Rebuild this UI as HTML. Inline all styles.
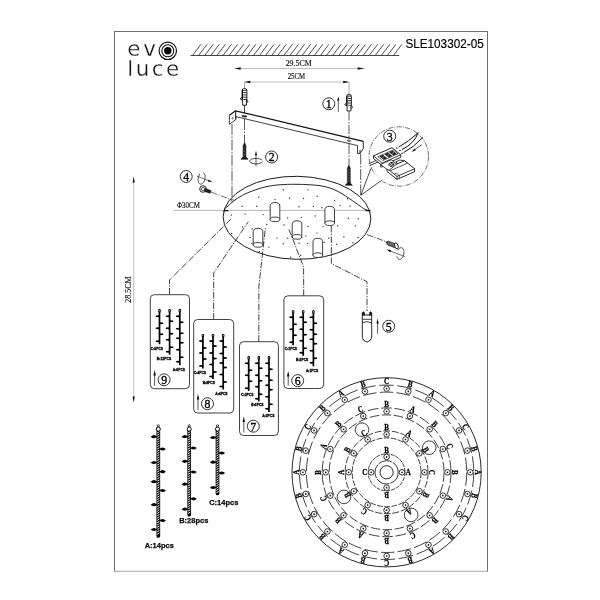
<!DOCTYPE html>
<html><head><meta charset="utf-8"><title>SLE103302-05</title>
<style>
html,body{margin:0;padding:0;background:#fff;}
body{width:600px;height:600px;overflow:hidden;font-family:"Liberation Sans",sans-serif;}
svg{display:block;will-change:transform;filter:grayscale(1);}
</style></head>
<body>
<svg width="600" height="600" viewBox="0 0 600 600">
<rect x="0" y="0" width="600" height="600" fill="#fff"/>
<line x1="114.00" y1="31.50" x2="488.00" y2="31.50" stroke="#6e6e6e" stroke-width="1" />
<line x1="114.50" y1="31.00" x2="114.50" y2="571.60" stroke="#6e6e6e" stroke-width="1" />
<line x1="487.50" y1="31.00" x2="487.50" y2="571.60" stroke="#6e6e6e" stroke-width="1" />
<line x1="114.00" y1="571.30" x2="488.00" y2="571.30" stroke="#a8a8a8" stroke-width="1" />
<text x="127.30" y="55.50" font-family="'DejaVu Sans','Liberation Sans', sans-serif" font-size="21.4" font-weight="400" text-anchor="start" fill="#111" letter-spacing="2.9" stroke="#fff" stroke-width="0.3" paint-order="fill stroke">ev</text>
<text x="127.30" y="75.50" font-family="'DejaVu Sans','Liberation Sans', sans-serif" font-size="21.4" font-weight="400" text-anchor="start" fill="#111" letter-spacing="2.5" stroke="#fff" stroke-width="0.3" paint-order="fill stroke">luce</text>
<circle cx="167.80" cy="50.80" r="8.70" fill="none" stroke="#111" stroke-width="1.2"/>
<circle cx="167.80" cy="50.80" r="6.00" fill="none" stroke="#111" stroke-width="1.1"/>
<circle cx="167.80" cy="50.80" r="3.70" fill="#000" stroke="#111" stroke-width="0"/>
<text x="405.40" y="47.80" font-family="'Liberation Sans', sans-serif" font-size="12.6" font-weight="normal" text-anchor="start" fill="#000" textLength="78.3" lengthAdjust="spacingAndGlyphs" stroke="#000" stroke-width="0.15">SLE103302-05</text>
<line x1="190.50" y1="55.50" x2="399.30" y2="55.50" stroke="#333" stroke-width="0.9" />
<line x1="192.50" y1="55.50" x2="201.00" y2="44.30" stroke="#222" stroke-width="0.8" />
<line x1="198.59" y1="55.50" x2="207.09" y2="44.30" stroke="#222" stroke-width="0.8" />
<line x1="204.68" y1="55.50" x2="213.18" y2="44.30" stroke="#222" stroke-width="0.8" />
<line x1="210.77" y1="55.50" x2="219.27" y2="44.30" stroke="#222" stroke-width="0.8" />
<line x1="216.86" y1="55.50" x2="225.36" y2="44.30" stroke="#222" stroke-width="0.8" />
<line x1="222.95" y1="55.50" x2="231.45" y2="44.30" stroke="#222" stroke-width="0.8" />
<line x1="229.04" y1="55.50" x2="237.54" y2="44.30" stroke="#222" stroke-width="0.8" />
<line x1="235.13" y1="55.50" x2="243.63" y2="44.30" stroke="#222" stroke-width="0.8" />
<line x1="241.22" y1="55.50" x2="249.72" y2="44.30" stroke="#222" stroke-width="0.8" />
<line x1="247.31" y1="55.50" x2="255.81" y2="44.30" stroke="#222" stroke-width="0.8" />
<line x1="253.40" y1="55.50" x2="261.90" y2="44.30" stroke="#222" stroke-width="0.8" />
<line x1="259.49" y1="55.50" x2="267.99" y2="44.30" stroke="#222" stroke-width="0.8" />
<line x1="265.58" y1="55.50" x2="274.08" y2="44.30" stroke="#222" stroke-width="0.8" />
<line x1="271.67" y1="55.50" x2="280.17" y2="44.30" stroke="#222" stroke-width="0.8" />
<line x1="277.76" y1="55.50" x2="286.26" y2="44.30" stroke="#222" stroke-width="0.8" />
<line x1="283.85" y1="55.50" x2="292.35" y2="44.30" stroke="#222" stroke-width="0.8" />
<line x1="289.94" y1="55.50" x2="298.44" y2="44.30" stroke="#222" stroke-width="0.8" />
<line x1="296.03" y1="55.50" x2="304.53" y2="44.30" stroke="#222" stroke-width="0.8" />
<line x1="302.12" y1="55.50" x2="310.62" y2="44.30" stroke="#222" stroke-width="0.8" />
<line x1="308.21" y1="55.50" x2="316.71" y2="44.30" stroke="#222" stroke-width="0.8" />
<line x1="314.30" y1="55.50" x2="322.80" y2="44.30" stroke="#222" stroke-width="0.8" />
<line x1="320.39" y1="55.50" x2="328.89" y2="44.30" stroke="#222" stroke-width="0.8" />
<line x1="326.48" y1="55.50" x2="334.98" y2="44.30" stroke="#222" stroke-width="0.8" />
<line x1="332.57" y1="55.50" x2="341.07" y2="44.30" stroke="#222" stroke-width="0.8" />
<line x1="338.66" y1="55.50" x2="347.16" y2="44.30" stroke="#222" stroke-width="0.8" />
<line x1="344.75" y1="55.50" x2="353.25" y2="44.30" stroke="#222" stroke-width="0.8" />
<line x1="350.84" y1="55.50" x2="359.34" y2="44.30" stroke="#222" stroke-width="0.8" />
<line x1="356.93" y1="55.50" x2="365.43" y2="44.30" stroke="#222" stroke-width="0.8" />
<line x1="363.02" y1="55.50" x2="371.52" y2="44.30" stroke="#222" stroke-width="0.8" />
<line x1="369.11" y1="55.50" x2="377.61" y2="44.30" stroke="#222" stroke-width="0.8" />
<line x1="375.20" y1="55.50" x2="383.70" y2="44.30" stroke="#222" stroke-width="0.8" />
<line x1="381.29" y1="55.50" x2="389.79" y2="44.30" stroke="#222" stroke-width="0.8" />
<line x1="387.38" y1="55.50" x2="395.88" y2="44.30" stroke="#222" stroke-width="0.8" />
<line x1="393.47" y1="55.50" x2="401.97" y2="44.30" stroke="#222" stroke-width="0.8" />
<line x1="235.00" y1="68.50" x2="364.00" y2="68.50" stroke="#888" stroke-width="0.55" />
<polygon points="234.20,68.50 240.70,67.20 240.70,69.80" fill="#111" stroke="none"/>
<polygon points="364.20,68.50 357.70,69.80 357.70,67.20" fill="#111" stroke="none"/>
<text x="285.70" y="65.80" font-family="'Liberation Serif', serif" font-size="8.2" font-weight="normal" text-anchor="start" fill="#111" textLength="26" stroke="#111" stroke-width="0.15" lengthAdjust="spacingAndGlyphs" >29.5CM</text>
<line x1="244.50" y1="82.00" x2="349.00" y2="82.00" stroke="#888" stroke-width="0.55" />
<polygon points="244.50,82.00 250.30,80.75 250.30,83.25" fill="#111" stroke="none"/>
<polygon points="349.00,82.00 343.20,83.25 343.20,80.75" fill="#111" stroke="none"/>
<text x="287.70" y="79.10" font-family="'Liberation Serif', serif" font-size="8.2" font-weight="normal" text-anchor="start" fill="#111" textLength="17.5" stroke="#111" stroke-width="0.15" lengthAdjust="spacingAndGlyphs" >25CM</text>
<line x1="133.70" y1="178.00" x2="133.70" y2="401.00" stroke="#888" stroke-width="0.55" />
<polygon points="133.70,176.50 134.80,182.50 132.60,182.50" fill="#111" stroke="none"/>
<polygon points="133.70,402.50 132.60,396.50 134.80,396.50" fill="#111" stroke="none"/>
<text x="130.90" y="289.50" font-family="'Liberation Serif', serif" font-size="8.2" font-weight="normal" text-anchor="middle" fill="#111" transform="rotate(-90 130.90 289.50)" textLength="26.5" stroke="#111" stroke-width="0.15" lengthAdjust="spacingAndGlyphs" >28.5CM</text>
<path d="M242.1,99.9 L242.1,90.80000000000001 Q242.1,88.4 244.5,88.4 Q246.9,88.4 246.9,90.80000000000001 L246.9,99.9" fill="#fff" stroke="#111" stroke-width="0.9" stroke-linejoin="round" stroke-linecap="round" />
<line x1="242.50" y1="89.90" x2="242.50" y2="99.40" stroke="#000" stroke-width="1.1" />
<line x1="243.30" y1="90.30" x2="246.70" y2="90.30" stroke="#111" stroke-width="0.9" />
<line x1="243.30" y1="92.60" x2="246.70" y2="92.60" stroke="#111" stroke-width="0.9" />
<line x1="243.30" y1="94.90" x2="246.70" y2="94.90" stroke="#111" stroke-width="0.9" />
<line x1="243.30" y1="97.20" x2="246.70" y2="97.20" stroke="#111" stroke-width="0.9" />
<line x1="243.30" y1="99.50" x2="246.70" y2="99.50" stroke="#111" stroke-width="0.9" />
<path d="M242.1,97.2 L240.2,98.80000000000001 L242.1,100.0 M246.9,100.0 L248.1,101.60000000000001 L246.5,102.80000000000001" fill="none" stroke="#111" stroke-width="0.9" stroke-linejoin="round" stroke-linecap="round" />
<path d="M242.6,99.9 L242.6,105.2 L246.4,105.2 L246.4,99.9" fill="#fff" stroke="#111" stroke-width="0.9" stroke-linejoin="round" stroke-linecap="round" />
<path d="M346.6,105.7 L346.6,96.60000000000001 Q346.6,94.2 349,94.2 Q351.4,94.2 351.4,96.60000000000001 L351.4,105.7" fill="#fff" stroke="#111" stroke-width="0.9" stroke-linejoin="round" stroke-linecap="round" />
<line x1="347.00" y1="95.70" x2="347.00" y2="105.20" stroke="#000" stroke-width="1.1" />
<line x1="347.80" y1="96.10" x2="351.20" y2="96.10" stroke="#111" stroke-width="0.9" />
<line x1="347.80" y1="98.40" x2="351.20" y2="98.40" stroke="#111" stroke-width="0.9" />
<line x1="347.80" y1="100.70" x2="351.20" y2="100.70" stroke="#111" stroke-width="0.9" />
<line x1="347.80" y1="103.00" x2="351.20" y2="103.00" stroke="#111" stroke-width="0.9" />
<line x1="347.80" y1="105.30" x2="351.20" y2="105.30" stroke="#111" stroke-width="0.9" />
<path d="M346.6,103.0 L344.7,104.60000000000001 L346.6,105.8 M351.4,105.8 L352.6,107.4 L351.0,108.60000000000001" fill="none" stroke="#111" stroke-width="0.9" stroke-linejoin="round" stroke-linecap="round" />
<path d="M347.1,105.7 L347.1,111.0 L350.9,111.0 L350.9,105.7" fill="#fff" stroke="#111" stroke-width="0.9" stroke-linejoin="round" stroke-linecap="round" />
<line x1="244.50" y1="82.00" x2="244.50" y2="88.00" stroke="#555" stroke-width="0.5" />
<line x1="244.50" y1="105.30" x2="244.50" y2="113.00" stroke="#111" stroke-width="0.8" />
<line x1="244.50" y1="119.00" x2="244.50" y2="142.00" stroke="#111" stroke-width="0.7" stroke-dasharray="11 1.5 1.5 1.5" />
<line x1="349.00" y1="82.00" x2="349.00" y2="94.00" stroke="#555" stroke-width="0.5" />
<line x1="349.00" y1="111.50" x2="349.00" y2="138.50" stroke="#111" stroke-width="0.7" stroke-dasharray="9 1.5 1.5 1.5" />
<line x1="349.00" y1="143.00" x2="349.00" y2="164.50" stroke="#111" stroke-width="0.7" stroke-dasharray="11 1.5 1.5 1.5" />
<line x1="232.00" y1="124.00" x2="232.00" y2="198.00" stroke="#111" stroke-width="0.7" stroke-dasharray="11 1.5 1.5 1.5" />
<line x1="360.70" y1="153.50" x2="360.70" y2="195.00" stroke="#111" stroke-width="0.7" stroke-dasharray="11 1.5 1.5 1.5" />
<polyline points="229.40,115.30 235.60,110.80 363.30,141.30" fill="none" stroke="#111" stroke-width="1.2" stroke-linejoin="round" />
<polyline points="229.40,115.30 229.40,124.30 235.80,119.60 235.80,116.60 357.50,145.60" fill="none" stroke="#111" stroke-width="0.8" stroke-linejoin="round" />
<line x1="235.70" y1="111.00" x2="235.70" y2="119.30" stroke="#111" stroke-width="1.0" />
<polyline points="363.30,141.30 363.30,148.50 360.00,153.30 360.00,150.00" fill="none" stroke="#111" stroke-width="0.9" stroke-linejoin="round" />
<polyline points="357.50,145.60 357.50,153.50 360.00,153.30" fill="none" stroke="#111" stroke-width="0.8" stroke-linejoin="round" />
<ellipse cx="232.60" cy="118.20" rx="0.60" ry="1.00" fill="none" stroke="#111" stroke-width="0.5"/>
<ellipse cx="244.40" cy="116.30" rx="2.70" ry="0.65" fill="#111" stroke="#111" stroke-width="0.6" transform="rotate(8 244.40 116.30)"/>
<ellipse cx="349.00" cy="140.80" rx="1.60" ry="0.80" fill="none" stroke="#111" stroke-width="0.7" transform="rotate(13 349.00 140.80)"/>
<path d="M244.5,142.5 L243.0,146.0 L243.0,157.10000000000002 L241.0,159.0 L241.0,159.3 L248.0,159.3 L248.0,159.0 L246.0,157.10000000000002 L246.0,146.0 Z" fill="#111" stroke="#111" stroke-width="0.5" stroke-linejoin="round" stroke-linecap="round" />
<line x1="243.10" y1="147.50" x2="245.90" y2="146.70" stroke="#aaa" stroke-width="0.35" />
<line x1="243.10" y1="149.00" x2="245.90" y2="148.20" stroke="#aaa" stroke-width="0.35" />
<line x1="243.10" y1="150.50" x2="245.90" y2="149.70" stroke="#aaa" stroke-width="0.35" />
<line x1="243.10" y1="152.00" x2="245.90" y2="151.20" stroke="#aaa" stroke-width="0.35" />
<line x1="243.10" y1="153.50" x2="245.90" y2="152.70" stroke="#aaa" stroke-width="0.35" />
<line x1="243.10" y1="155.00" x2="245.90" y2="154.20" stroke="#aaa" stroke-width="0.35" />
<line x1="243.10" y1="156.50" x2="245.90" y2="155.70" stroke="#aaa" stroke-width="0.35" />
<path d="M348.8,165 L347.3,168.5 L347.3,183.10000000000002 L345.3,185.0 L345.3,185.3 L352.3,185.3 L352.3,185.0 L350.3,183.10000000000002 L350.3,168.5 Z" fill="#111" stroke="#111" stroke-width="0.5" stroke-linejoin="round" stroke-linecap="round" />
<line x1="347.40" y1="170.00" x2="350.20" y2="169.20" stroke="#aaa" stroke-width="0.35" />
<line x1="347.40" y1="171.50" x2="350.20" y2="170.70" stroke="#aaa" stroke-width="0.35" />
<line x1="347.40" y1="173.00" x2="350.20" y2="172.20" stroke="#aaa" stroke-width="0.35" />
<line x1="347.40" y1="174.50" x2="350.20" y2="173.70" stroke="#aaa" stroke-width="0.35" />
<line x1="347.40" y1="176.00" x2="350.20" y2="175.20" stroke="#aaa" stroke-width="0.35" />
<line x1="347.40" y1="177.50" x2="350.20" y2="176.70" stroke="#aaa" stroke-width="0.35" />
<line x1="347.40" y1="179.00" x2="350.20" y2="178.20" stroke="#aaa" stroke-width="0.35" />
<line x1="347.40" y1="180.50" x2="350.20" y2="179.70" stroke="#aaa" stroke-width="0.35" />
<line x1="347.40" y1="182.00" x2="350.20" y2="181.20" stroke="#aaa" stroke-width="0.35" />
<path d="M261.5,159.6 A6.5,2.8 0 1 0 262.4,161.9" fill="none" stroke="#111" stroke-width="0.75" stroke-linejoin="round" stroke-linecap="round" />
<line x1="256.00" y1="154.00" x2="256.00" y2="166.30" stroke="#111" stroke-width="0.7" />
<polygon points="256.00,150.80 257.10,155.30 254.90,155.30" fill="#111" stroke="none"/>
<circle cx="271.60" cy="157.00" r="6.00" fill="none" stroke="#111" stroke-width="0.85"/>
<text transform="translate(271.60 161.42) scale(0.9 1)" x="0" y="0" font-family="'Liberation Serif', serif" font-size="13.2" text-anchor="middle" fill="#000" stroke="#000" stroke-width="0.35">2</text>
<circle cx="328.80" cy="103.80" r="6.00" fill="none" stroke="#111" stroke-width="0.85"/>
<text transform="translate(328.80 108.22) scale(0.9 1)" x="0" y="0" font-family="'Liberation Serif', serif" font-size="13.2" text-anchor="middle" fill="#000" stroke="#000" stroke-width="0.35">1</text>
<line x1="338.30" y1="98.00" x2="338.30" y2="111.80" stroke="#111" stroke-width="0.7" />
<polygon points="338.30,96.20 339.30,100.70 337.30,100.70" fill="#111" stroke="none"/>
<circle cx="186.20" cy="176.50" r="6.00" fill="none" stroke="#111" stroke-width="0.85"/>
<text transform="translate(186.20 180.92) scale(0.9 1)" x="0" y="0" font-family="'Liberation Serif', serif" font-size="13.2" text-anchor="middle" fill="#000" stroke="#000" stroke-width="0.35">4</text>
<circle cx="389.70" cy="136.20" r="6.00" fill="none" stroke="#111" stroke-width="0.85"/>
<text transform="translate(389.70 140.62) scale(0.9 1)" x="0" y="0" font-family="'Liberation Serif', serif" font-size="13.2" text-anchor="middle" fill="#000" stroke="#000" stroke-width="0.35">3</text>
<circle cx="388.70" cy="326.30" r="6.00" fill="none" stroke="#111" stroke-width="0.85"/>
<text transform="translate(388.70 330.72) scale(0.9 1)" x="0" y="0" font-family="'Liberation Serif', serif" font-size="13.2" text-anchor="middle" fill="#000" stroke="#000" stroke-width="0.35">5</text>
<line x1="377.60" y1="321.00" x2="377.60" y2="333.70" stroke="#111" stroke-width="0.7" />
<polygon points="377.60,318.60 378.80,323.60 376.40,323.60" fill="#111" stroke="none"/>
<ellipse cx="297.00" cy="217.80" rx="73.90" ry="41.50" fill="#fff" stroke="#111" stroke-width="0.95" transform="rotate(1 297.00 217.80)"/>
<path d="M223.30,211.50 C223.62,211.02 224.42,209.52 225.20,208.60 C225.98,207.68 226.37,207.43 228.00,206.00 C229.63,204.57 232.17,202.00 235.00,200.00 C237.83,198.00 241.67,195.67 245.00,194.00 C248.33,192.33 251.67,191.17 255.00,190.00 C258.33,188.83 261.67,187.80 265.00,187.00 C268.33,186.20 271.67,185.62 275.00,185.20 C278.33,184.78 281.83,184.65 285.00,184.50 C288.17,184.35 290.33,184.28 294.00,184.30 C297.67,184.32 302.67,184.37 307.00,184.60 C311.33,184.83 316.17,185.13 320.00,185.70 C323.83,186.27 326.67,186.87 330.00,188.00 C333.33,189.13 336.67,190.67 340.00,192.50 C343.33,194.33 346.67,196.75 350.00,199.00 C353.33,201.25 357.50,204.28 360.00,206.00 C362.50,207.72 363.45,208.47 365.00,209.30 C366.55,210.13 368.58,210.72 369.30,211.00" fill="none" stroke="#111" stroke-width="0.9" stroke-linejoin="round" stroke-linecap="round" />
<circle cx="283.3" cy="189.8" r="0.7" fill="#333"/>
<circle cx="308.0" cy="189.9" r="0.7" fill="#333"/>
<circle cx="258.7" cy="197.3" r="0.7" fill="#333"/>
<circle cx="275.1" cy="199.6" r="0.7" fill="#333"/>
<circle cx="289.6" cy="198.3" r="0.7" fill="#333"/>
<circle cx="303.5" cy="198.5" r="0.7" fill="#333"/>
<circle cx="317.2" cy="196.2" r="0.7" fill="#333"/>
<circle cx="334.5" cy="200.5" r="0.7" fill="#333"/>
<circle cx="347.5" cy="198.7" r="0.7" fill="#333"/>
<circle cx="242.1" cy="206.4" r="0.7" fill="#333"/>
<circle cx="256.6" cy="206.3" r="0.7" fill="#333"/>
<circle cx="271.2" cy="209.1" r="0.7" fill="#333"/>
<circle cx="279.5" cy="205.3" r="0.7" fill="#333"/>
<circle cx="299.0" cy="206.8" r="0.7" fill="#333"/>
<circle cx="313.4" cy="206.4" r="0.7" fill="#333"/>
<circle cx="321.9" cy="207.8" r="0.7" fill="#333"/>
<circle cx="340.2" cy="205.6" r="0.7" fill="#333"/>
<circle cx="350.0" cy="206.0" r="0.7" fill="#333"/>
<circle cx="231.2" cy="215.0" r="0.7" fill="#333"/>
<circle cx="245.1" cy="213.9" r="0.7" fill="#333"/>
<circle cx="263.3" cy="214.6" r="0.7" fill="#333"/>
<circle cx="275.9" cy="216.2" r="0.7" fill="#333"/>
<circle cx="287.6" cy="217.9" r="0.7" fill="#333"/>
<circle cx="301.3" cy="217.4" r="0.7" fill="#333"/>
<circle cx="315.2" cy="216.0" r="0.7" fill="#333"/>
<circle cx="329.8" cy="215.1" r="0.7" fill="#333"/>
<circle cx="348.3" cy="218.3" r="0.7" fill="#333"/>
<circle cx="358.3" cy="218.8" r="0.7" fill="#333"/>
<circle cx="242.6" cy="226.9" r="0.7" fill="#333"/>
<circle cx="252.1" cy="228.9" r="0.7" fill="#333"/>
<circle cx="266.8" cy="224.5" r="0.7" fill="#333"/>
<circle cx="284.1" cy="225.0" r="0.7" fill="#333"/>
<circle cx="295.3" cy="223.4" r="0.7" fill="#333"/>
<circle cx="308.0" cy="226.5" r="0.7" fill="#333"/>
<circle cx="323.0" cy="226.6" r="0.7" fill="#333"/>
<circle cx="337.7" cy="225.7" r="0.7" fill="#333"/>
<circle cx="355.3" cy="225.9" r="0.7" fill="#333"/>
<circle cx="231.6" cy="233.4" r="0.7" fill="#333"/>
<circle cx="250.0" cy="237.4" r="0.7" fill="#333"/>
<circle cx="260.0" cy="233.6" r="0.7" fill="#333"/>
<circle cx="276.9" cy="238.1" r="0.7" fill="#333"/>
<circle cx="287.7" cy="238.2" r="0.7" fill="#333"/>
<circle cx="305.8" cy="236.1" r="0.7" fill="#333"/>
<circle cx="317.0" cy="233.1" r="0.7" fill="#333"/>
<circle cx="328.7" cy="238.3" r="0.7" fill="#333"/>
<circle cx="343.9" cy="236.7" r="0.7" fill="#333"/>
<circle cx="358.0" cy="237.4" r="0.7" fill="#333"/>
<circle cx="251.9" cy="243.4" r="0.7" fill="#333"/>
<circle cx="268.9" cy="247.1" r="0.7" fill="#333"/>
<circle cx="283.2" cy="243.7" r="0.7" fill="#333"/>
<circle cx="299.0" cy="243.2" r="0.7" fill="#333"/>
<circle cx="307.6" cy="243.6" r="0.7" fill="#333"/>
<circle cx="324.2" cy="242.4" r="0.7" fill="#333"/>
<circle cx="336.6" cy="244.2" r="0.7" fill="#333"/>
<circle cx="352.9" cy="242.8" r="0.7" fill="#333"/>
<circle cx="259.3" cy="251.7" r="0.7" fill="#333"/>
<circle cx="290.7" cy="257.3" r="0.7" fill="#333"/>
<circle cx="300.6" cy="255.3" r="0.7" fill="#333"/>
<circle cx="317.4" cy="255.9" r="0.7" fill="#333"/>
<line x1="174.00" y1="210.40" x2="370.50" y2="210.40" stroke="#777" stroke-width="0.55" />
<line x1="224.00" y1="210.60" x2="228.50" y2="210.60" stroke="#111" stroke-width="1.3" />
<line x1="365.50" y1="210.60" x2="370.50" y2="210.60" stroke="#111" stroke-width="1.3" />
<text x="177.00" y="207.80" font-family="'Liberation Serif', serif" font-size="8.2" font-weight="normal" text-anchor="start" fill="#111" textLength="22.8" stroke="#111" stroke-width="0.15" lengthAdjust="spacingAndGlyphs" >Φ30CM</text>
<ellipse cx="232.30" cy="200.30" rx="0.90" ry="1.20" fill="none" stroke="#111" stroke-width="0.5" transform="rotate(30 232.30 200.30)"/>
<path d="M270.2,219.39999999999998 L270.2,206.0 Q270.2,202.5 275,202.5 Q279.8,202.5 279.8,206.0 L279.8,219.39999999999998" fill="#fff" stroke="#111" stroke-width="0.8" stroke-linejoin="round" stroke-linecap="round" />
<ellipse cx="275.00" cy="219.40" rx="4.80" ry="2.30" fill="#fff" stroke="#111" stroke-width="0.8"/>
<path d="M324.9,223.2 L324.9,209.8 Q324.9,206.3 329.7,206.3 Q334.5,206.3 334.5,209.8 L334.5,223.2" fill="#fff" stroke="#111" stroke-width="0.8" stroke-linejoin="round" stroke-linecap="round" />
<ellipse cx="329.70" cy="223.20" rx="4.80" ry="2.30" fill="#fff" stroke="#111" stroke-width="0.8"/>
<path d="M292.2,236.89999999999998 L292.2,224.3 Q292.2,220.8 297,220.8 Q301.8,220.8 301.8,224.3 L301.8,236.89999999999998" fill="#fff" stroke="#111" stroke-width="0.8" stroke-linejoin="round" stroke-linecap="round" />
<ellipse cx="297.00" cy="236.90" rx="4.80" ry="2.30" fill="#fff" stroke="#111" stroke-width="0.8"/>
<path d="M253.2,244.89999999999998 L253.2,231.8 Q253.2,228.3 258,228.3 Q262.8,228.3 262.8,231.8 L262.8,244.89999999999998" fill="#fff" stroke="#111" stroke-width="0.8" stroke-linejoin="round" stroke-linecap="round" />
<ellipse cx="258.00" cy="244.90" rx="4.80" ry="2.30" fill="#fff" stroke="#111" stroke-width="0.8"/>
<path d="M313.0,255.2 L313.0,241.8 Q313.0,238.3 317.8,238.3 Q322.6,238.3 322.6,241.8 L322.6,255.2" fill="#fff" stroke="#111" stroke-width="0.8" stroke-linejoin="round" stroke-linecap="round" />
<ellipse cx="317.80" cy="255.20" rx="4.80" ry="2.30" fill="#fff" stroke="#111" stroke-width="0.8"/>
<polyline points="169.50,294.50 169.50,280.00 231.70,218.30" fill="none" stroke="#111" stroke-width="0.8" stroke-linejoin="round" stroke-dasharray="6.5 1.4 1.2 1.4" />
<polyline points="213.70,319.50 213.70,273.00 248.30,221.70" fill="none" stroke="#111" stroke-width="0.8" stroke-linejoin="round" stroke-dasharray="6.5 1.4 1.2 1.4" />
<polyline points="258.80,341.70 258.90,286.00 265.50,227.00" fill="none" stroke="#111" stroke-width="0.8" stroke-linejoin="round" stroke-dasharray="6.5 1.4 1.2 1.4" />
<polyline points="303.70,295.80 303.60,267.00 289.00,229.50" fill="none" stroke="#111" stroke-width="0.8" stroke-linejoin="round" stroke-dasharray="6.5 1.4 1.2 1.4" />
<polyline points="331.30,226.00 331.30,263.50 367.00,281.70 367.00,311.00" fill="none" stroke="#111" stroke-width="0.8" stroke-linejoin="round" stroke-dasharray="6.5 1.4 1.2 1.4" />
<line x1="211.00" y1="192.00" x2="232.00" y2="200.00" stroke="#111" stroke-width="0.6" stroke-dasharray="6.5 1.4 1.2 1.4" />
<circle cx="203.00" cy="189.00" r="3.30" fill="#fff" stroke="#111" stroke-width="0.9"/>
<circle cx="203.00" cy="189.00" r="1.60" fill="none" stroke="#111" stroke-width="0.7"/>
<path d="M205.5,188.5 L211,190.6 L210.2,193.3 L204.6,191.4 Z" fill="#222" stroke="#111" stroke-width="0.6" stroke-linejoin="round" stroke-linecap="round" />
<path d="M203.65,172.91 L203.99,173.23 L204.31,173.63 L204.57,174.10 L204.79,174.64 L204.96,175.24 L205.08,175.89 L205.14,176.57 L205.14,177.29 L205.09,178.02 L204.98,178.75 L204.81,179.48 L204.60,180.19 L204.34,180.87 L204.03,181.51 L203.68,182.09 L203.31,182.62 L202.90,183.08 L202.47,183.46 L202.03,183.75 L201.58,183.96 L201.14,184.08 L200.70,184.11 L200.27,184.05 L199.87,183.89 L199.49,183.64 L199.15,183.31 L198.85,182.90 L198.59,182.41 L198.37,181.86 L198.21,181.25 L198.11,180.60 L198.06,179.90 L198.07,179.19 L198.13,178.45 L198.25,177.72 L198.42,176.99 L198.64,176.29 L198.91,175.62 L199.23,174.99 L199.58,174.41" fill="none" stroke="#111" stroke-width="0.75" stroke-linejoin="round" stroke-linecap="round" />
<line x1="197.00" y1="176.20" x2="209.50" y2="181.00" stroke="#111" stroke-width="0.6" />
<polygon points="212.50,182.20 207.90,181.61 208.69,179.56" fill="#111" stroke="none"/>
<line x1="367.00" y1="234.50" x2="387.00" y2="242.00" stroke="#111" stroke-width="0.7" stroke-dasharray="6.5 1.4 1.2 1.4" />
<path d="M386.6,241.9 L388.4,241.2 L395.6,243.9 L394.4,247.6 L387.6,244.9 Z" fill="#444" stroke="#111" stroke-width="0.7" stroke-linejoin="round" stroke-linecap="round" />
<line x1="389.20" y1="241.70" x2="388.30" y2="244.70" stroke="#ddd" stroke-width="0.45" />
<line x1="390.80" y1="242.32" x2="389.90" y2="245.32" stroke="#ddd" stroke-width="0.45" />
<line x1="392.40" y1="242.94" x2="391.50" y2="245.94" stroke="#ddd" stroke-width="0.45" />
<line x1="394.00" y1="243.56" x2="393.10" y2="246.56" stroke="#ddd" stroke-width="0.45" />
<ellipse cx="396.40" cy="245.90" rx="1.70" ry="3.20" fill="#fff" stroke="#111" stroke-width="0.9" transform="rotate(-20 396.40 245.90)"/>
<path d="M398.14,250.05 L398.51,249.48 L398.90,248.98 L399.32,248.55 L399.76,248.21 L400.20,247.94 L400.65,247.77 L401.10,247.69 L401.53,247.71 L401.95,247.82 L402.34,248.02 L402.70,248.32 L403.02,248.69 L403.30,249.15 L403.54,249.67 L403.72,250.26 L403.85,250.90 L403.93,251.59 L403.95,252.31 L403.91,253.05 L403.82,253.79 L403.67,254.54 L403.47,255.27 L403.23,255.97 L402.93,256.63 L402.60,257.25 L402.23,257.81 L401.83,258.30 L401.41,258.71 L400.97,259.05 L400.52,259.29 L400.07,259.45 L399.63,259.51 L399.20,259.48 L398.78,259.35 L398.40,259.13 L398.04,258.83 L397.73,258.44 L397.45,257.97 L397.23,257.43 L397.05,256.83" fill="none" stroke="#111" stroke-width="0.75" stroke-linejoin="round" stroke-linecap="round" />
<line x1="390.00" y1="250.90" x2="404.60" y2="256.50" stroke="#111" stroke-width="0.6" />
<polygon points="386.40,249.50 391.11,250.07 390.28,252.22" fill="#111" stroke="none"/>
<path d="M362.3,313.5 L362.3,337.2 Q362.4,340.6 367,342.2 Q371.6,340.6 371.7,337.2 L371.7,313.5" fill="#fff" stroke="#111" stroke-width="0.9" stroke-linejoin="round" stroke-linecap="round" />
<path d="M362.4,314.8 L362.4,312.6 Q363.4,310.8 364.5,312.6 L364.5,314.8 Z" fill="#111" stroke="#111" stroke-width="0.6" stroke-linejoin="round" stroke-linecap="round" />
<path d="M369.5,314.8 L369.5,312.6 Q370.6,310.8 371.6,312.6 L371.6,314.8 Z" fill="#111" stroke="#111" stroke-width="0.6" stroke-linejoin="round" stroke-linecap="round" />
<line x1="362.30" y1="315.00" x2="371.70" y2="315.00" stroke="#111" stroke-width="1.0" />
<line x1="362.30" y1="319.30" x2="371.70" y2="319.30" stroke="#111" stroke-width="0.8" />
<path d="M362.3,322.6 Q367,320.6 371.7,322.6" fill="none" stroke="#111" stroke-width="0.8" stroke-linejoin="round" stroke-linecap="round" />
<circle cx="398.80" cy="156.50" r="29.70" fill="none" stroke="#111" stroke-width="0.6" stroke-dasharray="5 1.3 1 1.3"/>
<polygon points="360.8,195.3 369.3,170 383.2,180.8" fill="#fff" stroke="none"/>
<polyline points="370.90,168.60 360.80,195.30 382.30,179.80" fill="none" stroke="#111" stroke-width="0.75" stroke-linejoin="round" />
<path d="M399,147 Q408.5,141.5 418,133" fill="none" stroke="#111" stroke-width="1.0" stroke-linejoin="round" stroke-linecap="round" />
<path d="M402.3,149.4 Q414.5,143.5 418,133" fill="none" stroke="#111" stroke-width="1.0" stroke-linejoin="round" stroke-linecap="round" />
<path d="M404,152.4 Q414,147 422.7,137.6" fill="none" stroke="#111" stroke-width="1.0" stroke-linejoin="round" stroke-linecap="round" />
<line x1="396.00" y1="147.80" x2="397.40" y2="148.40" stroke="#111" stroke-width="1.1" />
<line x1="399.30" y1="150.20" x2="400.70" y2="150.80" stroke="#111" stroke-width="1.1" />
<line x1="401.50" y1="152.90" x2="402.90" y2="153.50" stroke="#111" stroke-width="1.1" />
<line x1="413.00" y1="150.80" x2="421.70" y2="144.70" stroke="#111" stroke-width="0.7" />
<polygon points="411.50,151.90 414.56,148.42 415.82,150.22" fill="#111" stroke="none"/>
<line x1="368.80" y1="163.60" x2="376.50" y2="160.30" stroke="#111" stroke-width="0.8" />
<line x1="369.60" y1="165.60" x2="378.50" y2="161.80" stroke="#111" stroke-width="0.8" />
<polygon points="373.40,155.90 392.00,147.70 400.80,154.80 400.80,157.40 382.20,165.60 373.40,158.50" fill="#fff" stroke="#111" stroke-width="0.9" stroke-linejoin="round" />
<polyline points="373.40,155.90 382.20,163.00 400.80,154.80" fill="none" stroke="#111" stroke-width="0.8" stroke-linejoin="round" />
<line x1="382.20" y1="163.00" x2="382.20" y2="165.60" stroke="#111" stroke-width="0.8" />
<polygon points="377.83,156.69 393.27,149.89 398.11,153.79 382.67,160.60" fill="none" stroke="#111" stroke-width="0.6" stroke-linejoin="round" />
<polygon points="379.76,156.39 382.92,155.00 386.88,158.19 383.72,159.59" fill="#222" stroke="#111" stroke-width="0.5" stroke-linejoin="round" />
<line x1="382.44" y1="157.62" x2="384.11" y2="156.89" stroke="#fff" stroke-width="0.5" />
<polygon points="384.78,154.18 387.94,152.78 391.90,155.98 388.74,157.37" fill="#222" stroke="#111" stroke-width="0.5" stroke-linejoin="round" />
<line x1="387.46" y1="155.41" x2="389.14" y2="154.67" stroke="#fff" stroke-width="0.5" />
<polygon points="389.43,152.13 392.59,150.73 396.55,153.93 393.39,155.32" fill="#222" stroke="#111" stroke-width="0.5" stroke-linejoin="round" />
<line x1="392.11" y1="153.36" x2="393.79" y2="152.62" stroke="#fff" stroke-width="0.5" />
<path d="M381.8,164.6 Q379.6,165.2 380.2,166.6 Q381,167.6 382.6,166.8" fill="none" stroke="#111" stroke-width="0.9" stroke-linejoin="round" stroke-linecap="round" />
<polygon points="387.00,168.40 404.60,160.70 414.60,168.70 414.60,171.70 397.00,179.40 387.00,171.40" fill="#fff" stroke="#111" stroke-width="0.9" stroke-linejoin="round" />
<polyline points="387.00,168.40 397.00,176.40 414.60,168.70" fill="none" stroke="#111" stroke-width="0.8" stroke-linejoin="round" />
<line x1="397.00" y1="176.40" x2="397.00" y2="179.40" stroke="#111" stroke-width="0.8" />
<polygon points="380.62,164.38 391.18,159.76 396.68,164.16 389.20,170.16 386.12,168.78" fill="#fff" stroke="#111" stroke-width="0.8" stroke-linejoin="round" />
<ellipse cx="391.40" cy="164.40" rx="2.60" ry="1.90" fill="#fff" stroke="#111" stroke-width="0.9" transform="rotate(-20 391.40 164.40)"/>
<ellipse cx="391.60" cy="164.30" rx="1.20" ry="0.90" fill="none" stroke="#111" stroke-width="0.7" transform="rotate(-20 391.60 164.30)"/>
<polyline points="390.00,170.80 407.60,163.10" fill="none" stroke="#111" stroke-width="0.7" stroke-linejoin="round" />
<polyline points="397.91,163.63 395.71,161.87 399.76,160.10 404.60,160.70" fill="none" stroke="#111" stroke-width="0.8" stroke-linejoin="round" />
<polyline points="399.29,175.40 396.49,173.16 394.20,174.16" fill="none" stroke="#111" stroke-width="0.7" stroke-linejoin="round" />
<line x1="399.29" y1="175.40" x2="399.29" y2="178.40" stroke="#111" stroke-width="0.7" />
<rect x="150.3" y="294.7" width="39.20" height="94.00" rx="4" ry="4" fill="#fff" stroke="#111" stroke-width="0.8"/>
<line x1="159.50" y1="311.70" x2="159.50" y2="344.20" stroke="#000" stroke-width="1.7" />
<ellipse cx="159.50" cy="310.70" rx="0.85" ry="1.35" fill="#fff" stroke="#111" stroke-width="1.05"/>
<polygon points="159.50,315.20 156.20,315.50 155.50,316.20 156.20,316.90 159.50,317.20" fill="#000"/>
<polygon points="159.50,322.20 162.80,322.50 163.50,323.20 162.80,323.90 159.50,324.20" fill="#000"/>
<polygon points="159.50,327.20 156.20,327.50 155.50,328.20 156.20,328.90 159.50,329.20" fill="#000"/>
<polygon points="159.50,333.20 162.80,333.50 163.50,334.20 162.80,334.90 159.50,335.20" fill="#000"/>
<polygon points="159.50,340.20 156.20,340.50 155.50,341.20 156.20,341.90 159.50,342.20" fill="#000"/>
<line x1="169.60" y1="311.70" x2="169.60" y2="354.70" stroke="#000" stroke-width="1.7" />
<ellipse cx="169.60" cy="310.70" rx="0.85" ry="1.35" fill="#fff" stroke="#111" stroke-width="1.05"/>
<polygon points="169.60,315.20 166.30,315.50 165.60,316.20 166.30,316.90 169.60,317.20" fill="#000"/>
<polygon points="169.60,320.20 172.90,320.50 173.60,321.20 172.90,321.90 169.60,322.20" fill="#000"/>
<polygon points="169.60,327.20 166.30,327.50 165.60,328.20 166.30,328.90 169.60,329.20" fill="#000"/>
<polygon points="169.60,332.70 172.90,333.00 173.60,333.70 172.90,334.40 169.60,334.70" fill="#000"/>
<polygon points="169.60,338.70 166.30,339.00 165.60,339.70 166.30,340.40 169.60,340.70" fill="#000"/>
<polygon points="169.60,346.20 172.90,346.50 173.60,347.20 172.90,347.90 169.60,348.20" fill="#000"/>
<polygon points="169.60,350.70 166.30,351.00 165.60,351.70 166.30,352.40 169.60,352.70" fill="#000"/>
<line x1="179.80" y1="311.70" x2="179.80" y2="365.20" stroke="#000" stroke-width="1.7" />
<ellipse cx="179.80" cy="310.70" rx="0.85" ry="1.35" fill="#fff" stroke="#111" stroke-width="1.05"/>
<polygon points="179.80,315.20 176.50,315.50 175.80,316.20 176.50,316.90 179.80,317.20" fill="#000"/>
<polygon points="179.80,321.20 183.10,321.50 183.80,322.20 183.10,322.90 179.80,323.20" fill="#000"/>
<polygon points="179.80,327.70 176.50,328.00 175.80,328.70 176.50,329.40 179.80,329.70" fill="#000"/>
<polygon points="179.80,332.20 183.10,332.50 183.80,333.20 183.10,333.90 179.80,334.20" fill="#000"/>
<polygon points="179.80,337.20 176.50,337.50 175.80,338.20 176.50,338.90 179.80,339.20" fill="#000"/>
<polygon points="179.80,341.70 183.10,342.00 183.80,342.70 183.10,343.40 179.80,343.70" fill="#000"/>
<polygon points="179.80,348.70 176.50,349.00 175.80,349.70 176.50,350.40 179.80,350.70" fill="#000"/>
<polygon points="179.80,356.20 183.10,356.50 183.80,357.20 183.10,357.90 179.80,358.20" fill="#000"/>
<polygon points="179.80,360.70 176.50,361.00 175.80,361.70 176.50,362.40 179.80,362.70" fill="#000"/>
<text x="150.80" y="349.80" font-family="'Liberation Sans', sans-serif" font-size="3.6" font-weight="bold" text-anchor="start" fill="#111" stroke="#000" stroke-width="0.3" lengthAdjust="spacingAndGlyphs" textLength="12.3">C:6PCS</text>
<text x="156.80" y="360.20" font-family="'Liberation Sans', sans-serif" font-size="3.6" font-weight="bold" text-anchor="start" fill="#111" stroke="#000" stroke-width="0.3" lengthAdjust="spacingAndGlyphs" textLength="14.6">B:12PCS</text>
<text x="172.80" y="371.10" font-family="'Liberation Sans', sans-serif" font-size="3.6" font-weight="bold" text-anchor="start" fill="#111" stroke="#000" stroke-width="0.3" lengthAdjust="spacingAndGlyphs" textLength="12.3">A:6PCS</text>
<line x1="154.60" y1="385.70" x2="154.60" y2="373.70" stroke="#111" stroke-width="0.7" />
<polygon points="154.60,370.10 155.85,375.60 153.35,375.60" fill="#111" stroke="none"/>
<circle cx="164.10" cy="379.80" r="6.00" fill="none" stroke="#111" stroke-width="0.85"/>
<text transform="translate(164.10 384.22) scale(0.9 1)" x="0" y="0" font-family="'Liberation Serif', serif" font-size="13.2" text-anchor="middle" fill="#000" stroke="#000" stroke-width="0.35">9</text>
<rect x="193.7" y="319.5" width="40.00" height="93.50" rx="4" ry="4" fill="#fff" stroke="#111" stroke-width="0.8"/>
<line x1="202.90" y1="336.50" x2="202.90" y2="368.50" stroke="#000" stroke-width="1.7" />
<ellipse cx="202.90" cy="335.50" rx="0.85" ry="1.35" fill="#fff" stroke="#111" stroke-width="1.05"/>
<polygon points="202.90,340.00 199.60,340.30 198.90,341.00 199.60,341.70 202.90,342.00" fill="#000"/>
<polygon points="202.90,347.00 206.20,347.30 206.90,348.00 206.20,348.70 202.90,349.00" fill="#000"/>
<polygon points="202.90,352.00 199.60,352.30 198.90,353.00 199.60,353.70 202.90,354.00" fill="#000"/>
<polygon points="202.90,358.00 206.20,358.30 206.90,359.00 206.20,359.70 202.90,360.00" fill="#000"/>
<polygon points="202.90,365.00 199.60,365.30 198.90,366.00 199.60,366.70 202.90,367.00" fill="#000"/>
<line x1="213.00" y1="336.50" x2="213.00" y2="379.00" stroke="#000" stroke-width="1.7" />
<ellipse cx="213.00" cy="335.50" rx="0.85" ry="1.35" fill="#fff" stroke="#111" stroke-width="1.05"/>
<polygon points="213.00,340.00 209.70,340.30 209.00,341.00 209.70,341.70 213.00,342.00" fill="#000"/>
<polygon points="213.00,345.00 216.30,345.30 217.00,346.00 216.30,346.70 213.00,347.00" fill="#000"/>
<polygon points="213.00,352.00 209.70,352.30 209.00,353.00 209.70,353.70 213.00,354.00" fill="#000"/>
<polygon points="213.00,357.50 216.30,357.80 217.00,358.50 216.30,359.20 213.00,359.50" fill="#000"/>
<polygon points="213.00,363.50 209.70,363.80 209.00,364.50 209.70,365.20 213.00,365.50" fill="#000"/>
<polygon points="213.00,371.00 216.30,371.30 217.00,372.00 216.30,372.70 213.00,373.00" fill="#000"/>
<polygon points="213.00,375.50 209.70,375.80 209.00,376.50 209.70,377.20 213.00,377.50" fill="#000"/>
<line x1="223.20" y1="336.50" x2="223.20" y2="389.50" stroke="#000" stroke-width="1.7" />
<ellipse cx="223.20" cy="335.50" rx="0.85" ry="1.35" fill="#fff" stroke="#111" stroke-width="1.05"/>
<polygon points="223.20,340.00 219.90,340.30 219.20,341.00 219.90,341.70 223.20,342.00" fill="#000"/>
<polygon points="223.20,346.00 226.50,346.30 227.20,347.00 226.50,347.70 223.20,348.00" fill="#000"/>
<polygon points="223.20,352.50 219.90,352.80 219.20,353.50 219.90,354.20 223.20,354.50" fill="#000"/>
<polygon points="223.20,357.00 226.50,357.30 227.20,358.00 226.50,358.70 223.20,359.00" fill="#000"/>
<polygon points="223.20,362.00 219.90,362.30 219.20,363.00 219.90,363.70 223.20,364.00" fill="#000"/>
<polygon points="223.20,366.50 226.50,366.80 227.20,367.50 226.50,368.20 223.20,368.50" fill="#000"/>
<polygon points="223.20,373.50 219.90,373.80 219.20,374.50 219.90,375.20 223.20,375.50" fill="#000"/>
<polygon points="223.20,381.00 226.50,381.30 227.20,382.00 226.50,382.70 223.20,383.00" fill="#000"/>
<polygon points="223.20,385.50 219.90,385.80 219.20,386.50 219.90,387.20 223.20,387.50" fill="#000"/>
<text x="193.80" y="373.50" font-family="'Liberation Sans', sans-serif" font-size="3.6" font-weight="bold" text-anchor="start" fill="#111" stroke="#000" stroke-width="0.3" lengthAdjust="spacingAndGlyphs" textLength="12.3">C:4PCS</text>
<text x="202.70" y="383.90" font-family="'Liberation Sans', sans-serif" font-size="3.6" font-weight="bold" text-anchor="start" fill="#111" stroke="#000" stroke-width="0.3" lengthAdjust="spacingAndGlyphs" textLength="12.3">B:8PCS</text>
<text x="215.30" y="394.80" font-family="'Liberation Sans', sans-serif" font-size="3.6" font-weight="bold" text-anchor="start" fill="#111" stroke="#000" stroke-width="0.3" lengthAdjust="spacingAndGlyphs" textLength="12.3">A:4PCS</text>
<line x1="198.00" y1="410.00" x2="198.00" y2="398.00" stroke="#111" stroke-width="0.7" />
<polygon points="198.00,394.00 199.25,399.50 196.75,399.50" fill="#111" stroke="none"/>
<circle cx="207.50" cy="403.70" r="6.00" fill="none" stroke="#111" stroke-width="0.85"/>
<text transform="translate(207.50 408.12) scale(0.9 1)" x="0" y="0" font-family="'Liberation Serif', serif" font-size="13.2" text-anchor="middle" fill="#000" stroke="#000" stroke-width="0.35">8</text>
<rect x="239.5" y="341.7" width="38.90" height="93.80" rx="4" ry="4" fill="#fff" stroke="#111" stroke-width="0.8"/>
<line x1="248.70" y1="358.70" x2="248.70" y2="390.90" stroke="#000" stroke-width="1.7" />
<ellipse cx="248.70" cy="357.70" rx="0.85" ry="1.35" fill="#fff" stroke="#111" stroke-width="1.05"/>
<polygon points="248.70,362.20 245.40,362.50 244.70,363.20 245.40,363.90 248.70,364.20" fill="#000"/>
<polygon points="248.70,369.20 252.00,369.50 252.70,370.20 252.00,370.90 248.70,371.20" fill="#000"/>
<polygon points="248.70,374.20 245.40,374.50 244.70,375.20 245.40,375.90 248.70,376.20" fill="#000"/>
<polygon points="248.70,380.20 252.00,380.50 252.70,381.20 252.00,381.90 248.70,382.20" fill="#000"/>
<polygon points="248.70,387.20 245.40,387.50 244.70,388.20 245.40,388.90 248.70,389.20" fill="#000"/>
<line x1="258.80" y1="358.70" x2="258.80" y2="401.40" stroke="#000" stroke-width="1.7" />
<ellipse cx="258.80" cy="357.70" rx="0.85" ry="1.35" fill="#fff" stroke="#111" stroke-width="1.05"/>
<polygon points="258.80,362.20 255.50,362.50 254.80,363.20 255.50,363.90 258.80,364.20" fill="#000"/>
<polygon points="258.80,367.20 262.10,367.50 262.80,368.20 262.10,368.90 258.80,369.20" fill="#000"/>
<polygon points="258.80,374.20 255.50,374.50 254.80,375.20 255.50,375.90 258.80,376.20" fill="#000"/>
<polygon points="258.80,379.70 262.10,380.00 262.80,380.70 262.10,381.40 258.80,381.70" fill="#000"/>
<polygon points="258.80,385.70 255.50,386.00 254.80,386.70 255.50,387.40 258.80,387.70" fill="#000"/>
<polygon points="258.80,393.20 262.10,393.50 262.80,394.20 262.10,394.90 258.80,395.20" fill="#000"/>
<polygon points="258.80,397.70 255.50,398.00 254.80,398.70 255.50,399.40 258.80,399.70" fill="#000"/>
<line x1="269.00" y1="358.70" x2="269.00" y2="411.90" stroke="#000" stroke-width="1.7" />
<ellipse cx="269.00" cy="357.70" rx="0.85" ry="1.35" fill="#fff" stroke="#111" stroke-width="1.05"/>
<polygon points="269.00,362.20 265.70,362.50 265.00,363.20 265.70,363.90 269.00,364.20" fill="#000"/>
<polygon points="269.00,368.20 272.30,368.50 273.00,369.20 272.30,369.90 269.00,370.20" fill="#000"/>
<polygon points="269.00,374.70 265.70,375.00 265.00,375.70 265.70,376.40 269.00,376.70" fill="#000"/>
<polygon points="269.00,379.20 272.30,379.50 273.00,380.20 272.30,380.90 269.00,381.20" fill="#000"/>
<polygon points="269.00,384.20 265.70,384.50 265.00,385.20 265.70,385.90 269.00,386.20" fill="#000"/>
<polygon points="269.00,388.70 272.30,389.00 273.00,389.70 272.30,390.40 269.00,390.70" fill="#000"/>
<polygon points="269.00,395.70 265.70,396.00 265.00,396.70 265.70,397.40 269.00,397.70" fill="#000"/>
<polygon points="269.00,403.20 272.30,403.50 273.00,404.20 272.30,404.90 269.00,405.20" fill="#000"/>
<polygon points="269.00,407.70 265.70,408.00 265.00,408.70 265.70,409.40 269.00,409.70" fill="#000"/>
<text x="241.20" y="395.70" font-family="'Liberation Sans', sans-serif" font-size="3.6" font-weight="bold" text-anchor="start" fill="#111" stroke="#000" stroke-width="0.3" lengthAdjust="spacingAndGlyphs" textLength="12.3">C:3PCS</text>
<text x="251.30" y="406.10" font-family="'Liberation Sans', sans-serif" font-size="3.6" font-weight="bold" text-anchor="start" fill="#111" stroke="#000" stroke-width="0.3" lengthAdjust="spacingAndGlyphs" textLength="12.3">B:6PCS</text>
<text x="262.20" y="417.00" font-family="'Liberation Sans', sans-serif" font-size="3.6" font-weight="bold" text-anchor="start" fill="#111" stroke="#000" stroke-width="0.3" lengthAdjust="spacingAndGlyphs" textLength="12.3">A:3PCS</text>
<line x1="243.80" y1="432.50" x2="243.80" y2="420.50" stroke="#111" stroke-width="0.7" />
<polygon points="243.80,416.50 245.05,422.00 242.55,422.00" fill="#111" stroke="none"/>
<circle cx="253.30" cy="426.20" r="6.00" fill="none" stroke="#111" stroke-width="0.85"/>
<text transform="translate(253.30 430.62) scale(0.9 1)" x="0" y="0" font-family="'Liberation Serif', serif" font-size="13.2" text-anchor="middle" fill="#000" stroke="#000" stroke-width="0.35">7</text>
<rect x="283.9" y="295.8" width="39.80" height="92.70" rx="4" ry="4" fill="#fff" stroke="#111" stroke-width="0.8"/>
<line x1="293.10" y1="312.80" x2="293.10" y2="345.30" stroke="#000" stroke-width="1.7" />
<ellipse cx="293.10" cy="311.80" rx="0.85" ry="1.35" fill="#fff" stroke="#111" stroke-width="1.05"/>
<polygon points="293.10,316.30 289.80,316.60 289.10,317.30 289.80,318.00 293.10,318.30" fill="#000"/>
<polygon points="293.10,323.30 296.40,323.60 297.10,324.30 296.40,325.00 293.10,325.30" fill="#000"/>
<polygon points="293.10,328.30 289.80,328.60 289.10,329.30 289.80,330.00 293.10,330.30" fill="#000"/>
<polygon points="293.10,334.30 296.40,334.60 297.10,335.30 296.40,336.00 293.10,336.30" fill="#000"/>
<polygon points="293.10,341.30 289.80,341.60 289.10,342.30 289.80,343.00 293.10,343.30" fill="#000"/>
<line x1="303.20" y1="312.80" x2="303.20" y2="355.80" stroke="#000" stroke-width="1.7" />
<ellipse cx="303.20" cy="311.80" rx="0.85" ry="1.35" fill="#fff" stroke="#111" stroke-width="1.05"/>
<polygon points="303.20,316.30 299.90,316.60 299.20,317.30 299.90,318.00 303.20,318.30" fill="#000"/>
<polygon points="303.20,321.30 306.50,321.60 307.20,322.30 306.50,323.00 303.20,323.30" fill="#000"/>
<polygon points="303.20,328.30 299.90,328.60 299.20,329.30 299.90,330.00 303.20,330.30" fill="#000"/>
<polygon points="303.20,333.80 306.50,334.10 307.20,334.80 306.50,335.50 303.20,335.80" fill="#000"/>
<polygon points="303.20,339.80 299.90,340.10 299.20,340.80 299.90,341.50 303.20,341.80" fill="#000"/>
<polygon points="303.20,347.30 306.50,347.60 307.20,348.30 306.50,349.00 303.20,349.30" fill="#000"/>
<polygon points="303.20,351.80 299.90,352.10 299.20,352.80 299.90,353.50 303.20,353.80" fill="#000"/>
<line x1="313.40" y1="312.80" x2="313.40" y2="366.30" stroke="#000" stroke-width="1.7" />
<ellipse cx="313.40" cy="311.80" rx="0.85" ry="1.35" fill="#fff" stroke="#111" stroke-width="1.05"/>
<polygon points="313.40,316.30 310.10,316.60 309.40,317.30 310.10,318.00 313.40,318.30" fill="#000"/>
<polygon points="313.40,322.30 316.70,322.60 317.40,323.30 316.70,324.00 313.40,324.30" fill="#000"/>
<polygon points="313.40,328.80 310.10,329.10 309.40,329.80 310.10,330.50 313.40,330.80" fill="#000"/>
<polygon points="313.40,333.30 316.70,333.60 317.40,334.30 316.70,335.00 313.40,335.30" fill="#000"/>
<polygon points="313.40,338.30 310.10,338.60 309.40,339.30 310.10,340.00 313.40,340.30" fill="#000"/>
<polygon points="313.40,342.80 316.70,343.10 317.40,343.80 316.70,344.50 313.40,344.80" fill="#000"/>
<polygon points="313.40,349.80 310.10,350.10 309.40,350.80 310.10,351.50 313.40,351.80" fill="#000"/>
<polygon points="313.40,357.30 316.70,357.60 317.40,358.30 316.70,359.00 313.40,359.30" fill="#000"/>
<polygon points="313.40,361.80 310.10,362.10 309.40,362.80 310.10,363.50 313.40,363.80" fill="#000"/>
<text x="284.80" y="350.20" font-family="'Liberation Sans', sans-serif" font-size="3.6" font-weight="bold" text-anchor="start" fill="#111" stroke="#000" stroke-width="0.3" lengthAdjust="spacingAndGlyphs" textLength="12.3">C:1PCS</text>
<text x="296.00" y="360.60" font-family="'Liberation Sans', sans-serif" font-size="3.6" font-weight="bold" text-anchor="start" fill="#111" stroke="#000" stroke-width="0.3" lengthAdjust="spacingAndGlyphs" textLength="12.3">B:2PCS</text>
<text x="305.90" y="371.50" font-family="'Liberation Sans', sans-serif" font-size="3.6" font-weight="bold" text-anchor="start" fill="#111" stroke="#000" stroke-width="0.3" lengthAdjust="spacingAndGlyphs" textLength="12.3">A:1PCS</text>
<line x1="288.20" y1="385.50" x2="288.20" y2="373.50" stroke="#111" stroke-width="0.7" />
<polygon points="288.20,370.90 289.45,376.40 286.95,376.40" fill="#111" stroke="none"/>
<circle cx="297.70" cy="380.60" r="6.00" fill="none" stroke="#111" stroke-width="0.85"/>
<text transform="translate(297.70 385.02) scale(0.9 1)" x="0" y="0" font-family="'Liberation Serif', serif" font-size="13.2" text-anchor="middle" fill="#000" stroke="#000" stroke-width="0.35">6</text>
<line x1="158.3" y1="430.6" x2="158.3" y2="536" stroke="#000" stroke-width="3.7" stroke-linecap="round"/>
<line x1="157.15" y1="433.00" x2="159.45000000000002" y2="431.60" stroke="#fff" stroke-width="0.95"/>
<line x1="157.15" y1="435.30" x2="159.45000000000002" y2="433.90" stroke="#fff" stroke-width="0.95"/>
<line x1="157.15" y1="437.60" x2="159.45000000000002" y2="436.20" stroke="#fff" stroke-width="0.95"/>
<line x1="157.15" y1="439.90" x2="159.45000000000002" y2="438.50" stroke="#fff" stroke-width="0.95"/>
<line x1="157.15" y1="442.20" x2="159.45000000000002" y2="440.80" stroke="#fff" stroke-width="0.95"/>
<line x1="157.15" y1="444.50" x2="159.45000000000002" y2="443.10" stroke="#fff" stroke-width="0.95"/>
<line x1="157.15" y1="446.80" x2="159.45000000000002" y2="445.40" stroke="#fff" stroke-width="0.95"/>
<line x1="157.15" y1="449.10" x2="159.45000000000002" y2="447.70" stroke="#fff" stroke-width="0.95"/>
<line x1="157.15" y1="451.40" x2="159.45000000000002" y2="450.00" stroke="#fff" stroke-width="0.95"/>
<line x1="157.15" y1="453.70" x2="159.45000000000002" y2="452.30" stroke="#fff" stroke-width="0.95"/>
<line x1="157.15" y1="456.00" x2="159.45000000000002" y2="454.60" stroke="#fff" stroke-width="0.95"/>
<line x1="157.15" y1="458.30" x2="159.45000000000002" y2="456.90" stroke="#fff" stroke-width="0.95"/>
<line x1="157.15" y1="460.60" x2="159.45000000000002" y2="459.20" stroke="#fff" stroke-width="0.95"/>
<line x1="157.15" y1="462.90" x2="159.45000000000002" y2="461.50" stroke="#fff" stroke-width="0.95"/>
<line x1="157.15" y1="465.20" x2="159.45000000000002" y2="463.80" stroke="#fff" stroke-width="0.95"/>
<line x1="157.15" y1="467.50" x2="159.45000000000002" y2="466.10" stroke="#fff" stroke-width="0.95"/>
<line x1="157.15" y1="469.80" x2="159.45000000000002" y2="468.40" stroke="#fff" stroke-width="0.95"/>
<line x1="157.15" y1="472.10" x2="159.45000000000002" y2="470.70" stroke="#fff" stroke-width="0.95"/>
<line x1="157.15" y1="474.40" x2="159.45000000000002" y2="473.00" stroke="#fff" stroke-width="0.95"/>
<line x1="157.15" y1="476.70" x2="159.45000000000002" y2="475.30" stroke="#fff" stroke-width="0.95"/>
<line x1="157.15" y1="479.00" x2="159.45000000000002" y2="477.60" stroke="#fff" stroke-width="0.95"/>
<line x1="157.15" y1="481.30" x2="159.45000000000002" y2="479.90" stroke="#fff" stroke-width="0.95"/>
<line x1="157.15" y1="483.60" x2="159.45000000000002" y2="482.20" stroke="#fff" stroke-width="0.95"/>
<line x1="157.15" y1="485.90" x2="159.45000000000002" y2="484.50" stroke="#fff" stroke-width="0.95"/>
<line x1="157.15" y1="488.20" x2="159.45000000000002" y2="486.80" stroke="#fff" stroke-width="0.95"/>
<line x1="157.15" y1="490.50" x2="159.45000000000002" y2="489.10" stroke="#fff" stroke-width="0.95"/>
<line x1="157.15" y1="492.80" x2="159.45000000000002" y2="491.40" stroke="#fff" stroke-width="0.95"/>
<line x1="157.15" y1="495.10" x2="159.45000000000002" y2="493.70" stroke="#fff" stroke-width="0.95"/>
<line x1="157.15" y1="497.40" x2="159.45000000000002" y2="496.00" stroke="#fff" stroke-width="0.95"/>
<line x1="157.15" y1="499.70" x2="159.45000000000002" y2="498.30" stroke="#fff" stroke-width="0.95"/>
<line x1="157.15" y1="502.00" x2="159.45000000000002" y2="500.60" stroke="#fff" stroke-width="0.95"/>
<line x1="157.15" y1="504.30" x2="159.45000000000002" y2="502.90" stroke="#fff" stroke-width="0.95"/>
<line x1="157.15" y1="506.60" x2="159.45000000000002" y2="505.20" stroke="#fff" stroke-width="0.95"/>
<line x1="157.15" y1="508.90" x2="159.45000000000002" y2="507.50" stroke="#fff" stroke-width="0.95"/>
<line x1="157.15" y1="511.20" x2="159.45000000000002" y2="509.80" stroke="#fff" stroke-width="0.95"/>
<line x1="157.15" y1="513.50" x2="159.45000000000002" y2="512.10" stroke="#fff" stroke-width="0.95"/>
<line x1="157.15" y1="515.80" x2="159.45000000000002" y2="514.40" stroke="#fff" stroke-width="0.95"/>
<line x1="157.15" y1="518.10" x2="159.45000000000002" y2="516.70" stroke="#fff" stroke-width="0.95"/>
<line x1="157.15" y1="520.40" x2="159.45000000000002" y2="519.00" stroke="#fff" stroke-width="0.95"/>
<line x1="157.15" y1="522.70" x2="159.45000000000002" y2="521.30" stroke="#fff" stroke-width="0.95"/>
<line x1="157.15" y1="525.00" x2="159.45000000000002" y2="523.60" stroke="#fff" stroke-width="0.95"/>
<line x1="157.15" y1="527.30" x2="159.45000000000002" y2="525.90" stroke="#fff" stroke-width="0.95"/>
<line x1="157.15" y1="529.60" x2="159.45000000000002" y2="528.20" stroke="#fff" stroke-width="0.95"/>
<line x1="157.15" y1="531.90" x2="159.45000000000002" y2="530.50" stroke="#fff" stroke-width="0.95"/>
<line x1="157.15" y1="534.20" x2="159.45000000000002" y2="532.80" stroke="#fff" stroke-width="0.95"/>
<circle cx="158.30" cy="425.90" r="1.15" fill="#fff" stroke="#111" stroke-width="0.8"/>
<circle cx="158.30" cy="429.10" r="2.05" fill="#fff" stroke="#111" stroke-width="1.0"/>
<path d="M157.30,436.10 L156.10,435.90 Q153.70,434.00 150.70,436.70 Q153.70,439.40 156.10,437.50 L157.30,437.30 Z" fill="#000"/>
<path d="M159.30,448.40 L160.50,448.20 Q162.90,446.30 165.90,449.00 Q162.90,451.70 160.50,449.80 L159.30,449.60 Z" fill="#000"/>
<path d="M157.30,461.90 L156.10,461.70 Q153.70,459.80 150.70,462.50 Q153.70,465.20 156.10,463.30 L157.30,463.10 Z" fill="#000"/>
<path d="M159.30,471.10 L160.50,470.90 Q162.90,469.00 165.90,471.70 Q162.90,474.40 160.50,472.50 L159.30,472.30 Z" fill="#000"/>
<path d="M157.30,481.10 L156.10,480.90 Q153.70,479.00 150.70,481.70 Q153.70,484.40 156.10,482.50 L157.30,482.30 Z" fill="#000"/>
<path d="M159.30,489.90 L160.50,489.70 Q162.90,487.80 165.90,490.50 Q162.90,493.20 160.50,491.30 L159.30,491.10 Z" fill="#000"/>
<path d="M157.30,504.10 L156.10,503.90 Q153.70,502.00 150.70,504.70 Q153.70,507.40 156.10,505.50 L157.30,505.30 Z" fill="#000"/>
<path d="M159.30,519.90 L160.50,519.70 Q162.90,517.80 165.90,520.50 Q162.90,523.20 160.50,521.30 L159.30,521.10 Z" fill="#000"/>
<path d="M157.30,528.90 L156.10,528.70 Q153.70,526.80 150.70,529.50 Q153.70,532.20 156.10,530.30 L157.30,530.10 Z" fill="#000"/>
<line x1="189.2" y1="430.6" x2="189.2" y2="514.7" stroke="#000" stroke-width="3.7" stroke-linecap="round"/>
<line x1="188.04999999999998" y1="433.00" x2="190.35" y2="431.60" stroke="#fff" stroke-width="0.95"/>
<line x1="188.04999999999998" y1="435.30" x2="190.35" y2="433.90" stroke="#fff" stroke-width="0.95"/>
<line x1="188.04999999999998" y1="437.60" x2="190.35" y2="436.20" stroke="#fff" stroke-width="0.95"/>
<line x1="188.04999999999998" y1="439.90" x2="190.35" y2="438.50" stroke="#fff" stroke-width="0.95"/>
<line x1="188.04999999999998" y1="442.20" x2="190.35" y2="440.80" stroke="#fff" stroke-width="0.95"/>
<line x1="188.04999999999998" y1="444.50" x2="190.35" y2="443.10" stroke="#fff" stroke-width="0.95"/>
<line x1="188.04999999999998" y1="446.80" x2="190.35" y2="445.40" stroke="#fff" stroke-width="0.95"/>
<line x1="188.04999999999998" y1="449.10" x2="190.35" y2="447.70" stroke="#fff" stroke-width="0.95"/>
<line x1="188.04999999999998" y1="451.40" x2="190.35" y2="450.00" stroke="#fff" stroke-width="0.95"/>
<line x1="188.04999999999998" y1="453.70" x2="190.35" y2="452.30" stroke="#fff" stroke-width="0.95"/>
<line x1="188.04999999999998" y1="456.00" x2="190.35" y2="454.60" stroke="#fff" stroke-width="0.95"/>
<line x1="188.04999999999998" y1="458.30" x2="190.35" y2="456.90" stroke="#fff" stroke-width="0.95"/>
<line x1="188.04999999999998" y1="460.60" x2="190.35" y2="459.20" stroke="#fff" stroke-width="0.95"/>
<line x1="188.04999999999998" y1="462.90" x2="190.35" y2="461.50" stroke="#fff" stroke-width="0.95"/>
<line x1="188.04999999999998" y1="465.20" x2="190.35" y2="463.80" stroke="#fff" stroke-width="0.95"/>
<line x1="188.04999999999998" y1="467.50" x2="190.35" y2="466.10" stroke="#fff" stroke-width="0.95"/>
<line x1="188.04999999999998" y1="469.80" x2="190.35" y2="468.40" stroke="#fff" stroke-width="0.95"/>
<line x1="188.04999999999998" y1="472.10" x2="190.35" y2="470.70" stroke="#fff" stroke-width="0.95"/>
<line x1="188.04999999999998" y1="474.40" x2="190.35" y2="473.00" stroke="#fff" stroke-width="0.95"/>
<line x1="188.04999999999998" y1="476.70" x2="190.35" y2="475.30" stroke="#fff" stroke-width="0.95"/>
<line x1="188.04999999999998" y1="479.00" x2="190.35" y2="477.60" stroke="#fff" stroke-width="0.95"/>
<line x1="188.04999999999998" y1="481.30" x2="190.35" y2="479.90" stroke="#fff" stroke-width="0.95"/>
<line x1="188.04999999999998" y1="483.60" x2="190.35" y2="482.20" stroke="#fff" stroke-width="0.95"/>
<line x1="188.04999999999998" y1="485.90" x2="190.35" y2="484.50" stroke="#fff" stroke-width="0.95"/>
<line x1="188.04999999999998" y1="488.20" x2="190.35" y2="486.80" stroke="#fff" stroke-width="0.95"/>
<line x1="188.04999999999998" y1="490.50" x2="190.35" y2="489.10" stroke="#fff" stroke-width="0.95"/>
<line x1="188.04999999999998" y1="492.80" x2="190.35" y2="491.40" stroke="#fff" stroke-width="0.95"/>
<line x1="188.04999999999998" y1="495.10" x2="190.35" y2="493.70" stroke="#fff" stroke-width="0.95"/>
<line x1="188.04999999999998" y1="497.40" x2="190.35" y2="496.00" stroke="#fff" stroke-width="0.95"/>
<line x1="188.04999999999998" y1="499.70" x2="190.35" y2="498.30" stroke="#fff" stroke-width="0.95"/>
<line x1="188.04999999999998" y1="502.00" x2="190.35" y2="500.60" stroke="#fff" stroke-width="0.95"/>
<line x1="188.04999999999998" y1="504.30" x2="190.35" y2="502.90" stroke="#fff" stroke-width="0.95"/>
<line x1="188.04999999999998" y1="506.60" x2="190.35" y2="505.20" stroke="#fff" stroke-width="0.95"/>
<line x1="188.04999999999998" y1="508.90" x2="190.35" y2="507.50" stroke="#fff" stroke-width="0.95"/>
<line x1="188.04999999999998" y1="511.20" x2="190.35" y2="509.80" stroke="#fff" stroke-width="0.95"/>
<line x1="188.04999999999998" y1="513.50" x2="190.35" y2="512.10" stroke="#fff" stroke-width="0.95"/>
<circle cx="189.20" cy="425.90" r="1.15" fill="#fff" stroke="#111" stroke-width="0.8"/>
<circle cx="189.20" cy="429.10" r="2.05" fill="#fff" stroke="#111" stroke-width="1.0"/>
<path d="M188.20,436.10 L187.00,435.90 Q184.60,434.00 181.60,436.70 Q184.60,439.40 187.00,437.50 L188.20,437.30 Z" fill="#000"/>
<path d="M190.20,447.40 L191.40,447.20 Q193.80,445.30 196.80,448.00 Q193.80,450.70 191.40,448.80 L190.20,448.60 Z" fill="#000"/>
<path d="M188.20,460.70 L187.00,460.50 Q184.60,458.60 181.60,461.30 Q184.60,464.00 187.00,462.10 L188.20,461.90 Z" fill="#000"/>
<path d="M190.20,471.40 L191.40,471.20 Q193.80,469.30 196.80,472.00 Q193.80,474.70 191.40,472.80 L190.20,472.60 Z" fill="#000"/>
<path d="M188.20,483.60 L187.00,483.40 Q184.60,481.50 181.60,484.20 Q184.60,486.90 187.00,485.00 L188.20,484.80 Z" fill="#000"/>
<path d="M190.20,498.20 L191.40,498.00 Q193.80,496.10 196.80,498.80 Q193.80,501.50 191.40,499.60 L190.20,499.40 Z" fill="#000"/>
<path d="M188.20,508.60 L187.00,508.40 Q184.60,506.50 181.60,509.20 Q184.60,511.90 187.00,510.00 L188.20,509.80 Z" fill="#000"/>
<line x1="217.5" y1="430.6" x2="217.5" y2="493.5" stroke="#000" stroke-width="3.7" stroke-linecap="round"/>
<line x1="216.35" y1="433.00" x2="218.65" y2="431.60" stroke="#fff" stroke-width="0.95"/>
<line x1="216.35" y1="435.30" x2="218.65" y2="433.90" stroke="#fff" stroke-width="0.95"/>
<line x1="216.35" y1="437.60" x2="218.65" y2="436.20" stroke="#fff" stroke-width="0.95"/>
<line x1="216.35" y1="439.90" x2="218.65" y2="438.50" stroke="#fff" stroke-width="0.95"/>
<line x1="216.35" y1="442.20" x2="218.65" y2="440.80" stroke="#fff" stroke-width="0.95"/>
<line x1="216.35" y1="444.50" x2="218.65" y2="443.10" stroke="#fff" stroke-width="0.95"/>
<line x1="216.35" y1="446.80" x2="218.65" y2="445.40" stroke="#fff" stroke-width="0.95"/>
<line x1="216.35" y1="449.10" x2="218.65" y2="447.70" stroke="#fff" stroke-width="0.95"/>
<line x1="216.35" y1="451.40" x2="218.65" y2="450.00" stroke="#fff" stroke-width="0.95"/>
<line x1="216.35" y1="453.70" x2="218.65" y2="452.30" stroke="#fff" stroke-width="0.95"/>
<line x1="216.35" y1="456.00" x2="218.65" y2="454.60" stroke="#fff" stroke-width="0.95"/>
<line x1="216.35" y1="458.30" x2="218.65" y2="456.90" stroke="#fff" stroke-width="0.95"/>
<line x1="216.35" y1="460.60" x2="218.65" y2="459.20" stroke="#fff" stroke-width="0.95"/>
<line x1="216.35" y1="462.90" x2="218.65" y2="461.50" stroke="#fff" stroke-width="0.95"/>
<line x1="216.35" y1="465.20" x2="218.65" y2="463.80" stroke="#fff" stroke-width="0.95"/>
<line x1="216.35" y1="467.50" x2="218.65" y2="466.10" stroke="#fff" stroke-width="0.95"/>
<line x1="216.35" y1="469.80" x2="218.65" y2="468.40" stroke="#fff" stroke-width="0.95"/>
<line x1="216.35" y1="472.10" x2="218.65" y2="470.70" stroke="#fff" stroke-width="0.95"/>
<line x1="216.35" y1="474.40" x2="218.65" y2="473.00" stroke="#fff" stroke-width="0.95"/>
<line x1="216.35" y1="476.70" x2="218.65" y2="475.30" stroke="#fff" stroke-width="0.95"/>
<line x1="216.35" y1="479.00" x2="218.65" y2="477.60" stroke="#fff" stroke-width="0.95"/>
<line x1="216.35" y1="481.30" x2="218.65" y2="479.90" stroke="#fff" stroke-width="0.95"/>
<line x1="216.35" y1="483.60" x2="218.65" y2="482.20" stroke="#fff" stroke-width="0.95"/>
<line x1="216.35" y1="485.90" x2="218.65" y2="484.50" stroke="#fff" stroke-width="0.95"/>
<line x1="216.35" y1="488.20" x2="218.65" y2="486.80" stroke="#fff" stroke-width="0.95"/>
<line x1="216.35" y1="490.50" x2="218.65" y2="489.10" stroke="#fff" stroke-width="0.95"/>
<line x1="216.35" y1="492.80" x2="218.65" y2="491.40" stroke="#fff" stroke-width="0.95"/>
<circle cx="217.50" cy="425.90" r="1.15" fill="#fff" stroke="#111" stroke-width="0.8"/>
<circle cx="217.50" cy="429.10" r="2.05" fill="#fff" stroke="#111" stroke-width="1.0"/>
<path d="M216.50,436.90 L215.30,436.70 Q212.90,434.80 209.90,437.50 Q212.90,440.20 215.30,438.30 L216.50,438.10 Z" fill="#000"/>
<path d="M218.50,452.40 L219.70,452.20 Q222.10,450.30 225.10,453.00 Q222.10,455.70 219.70,453.80 L218.50,453.60 Z" fill="#000"/>
<path d="M216.50,461.60 L215.30,461.40 Q212.90,459.50 209.90,462.20 Q212.90,464.90 215.30,463.00 L216.50,462.80 Z" fill="#000"/>
<path d="M218.50,472.40 L219.70,472.20 Q222.10,470.30 225.10,473.00 Q222.10,475.70 219.70,473.80 L218.50,473.60 Z" fill="#000"/>
<path d="M216.50,486.90 L215.30,486.70 Q212.90,484.80 209.90,487.50 Q212.90,490.20 215.30,488.30 L216.50,488.10 Z" fill="#000"/>
<text x="209.20" y="505.30" font-family="'Liberation Sans', sans-serif" font-size="7.5" font-weight="bold" text-anchor="start" fill="#111" stroke="#000" stroke-width="0.25">C:14pcs</text>
<text x="179.20" y="523.00" font-family="'Liberation Sans', sans-serif" font-size="7.5" font-weight="bold" text-anchor="start" fill="#111" stroke="#000" stroke-width="0.25">B:28pcs</text>
<text x="144.70" y="548.30" font-family="'Liberation Sans', sans-serif" font-size="7.5" font-weight="bold" text-anchor="start" fill="#111" stroke="#000" stroke-width="0.25">A:14pcs</text>
<circle cx="386.60" cy="472.30" r="94.60" fill="none" stroke="#111" stroke-width="0.9"/>
<circle cx="386.60" cy="472.30" r="6.60" fill="none" stroke="#111" stroke-width="0.9"/>
<circle cx="386.60" cy="472.30" r="11.60" fill="none" stroke="#111" stroke-width="0.85" stroke-dasharray="14 1.2"/>
<circle cx="386.60" cy="472.30" r="18.40" fill="none" stroke="#111" stroke-width="0.8" stroke-dasharray="4.02 1.00"/>
<circle cx="386.60" cy="472.30" r="34.40" fill="none" stroke="#111" stroke-width="0.8" stroke-dasharray="5.78 1.44"/>
<circle cx="386.60" cy="472.30" r="41.40" fill="none" stroke="#111" stroke-width="0.8" stroke-dasharray="6.96 1.74"/>
<circle cx="386.60" cy="472.30" r="57.40" fill="none" stroke="#111" stroke-width="0.8" stroke-dasharray="9.64 2.41"/>
<circle cx="386.60" cy="472.30" r="64.40" fill="none" stroke="#111" stroke-width="0.8" stroke-dasharray="10.82 2.70"/>
<circle cx="386.60" cy="472.30" r="80.20" fill="none" stroke="#111" stroke-width="0.8" stroke-dasharray="13.47 3.37"/>
<circle cx="386.60" cy="472.30" r="87.20" fill="none" stroke="#111" stroke-width="0.8" stroke-dasharray="14.65 3.66"/>
<circle cx="429.21" cy="447.70" r="6.80" fill="none" stroke="#111" stroke-width="0.8"/>
<circle cx="411.20" cy="514.91" r="6.80" fill="none" stroke="#111" stroke-width="0.8"/>
<circle cx="343.99" cy="496.90" r="6.80" fill="none" stroke="#111" stroke-width="0.8"/>
<circle cx="362.00" cy="429.69" r="6.80" fill="none" stroke="#111" stroke-width="0.8"/>
<circle cx="386.60" cy="456.90" r="2.80" fill="#fff" stroke="#111" stroke-width="0.85"/>
<circle cx="386.60" cy="456.90" r="0.85" fill="#111"/>
<text transform="translate(386.60 452.50) rotate(-0.00) scale(0.78 1)" x="0" y="0" font-family="'Liberation Serif', serif" font-size="9" font-weight="bold" text-anchor="middle" fill="#000" stroke="#000" stroke-width="0.25">B</text>
<circle cx="371.20" cy="472.30" r="2.80" fill="#fff" stroke="#111" stroke-width="0.85"/>
<circle cx="371.20" cy="472.30" r="0.85" fill="#111"/>
<text transform="translate(364.90 475.30) rotate(0.00) scale(0.78 1)" x="0" y="0" font-family="'Liberation Serif', serif" font-size="9" font-weight="bold" text-anchor="middle" fill="#000" stroke="#000" stroke-width="0.25">C</text>
<circle cx="386.60" cy="487.70" r="2.80" fill="#fff" stroke="#111" stroke-width="0.85"/>
<circle cx="386.60" cy="487.70" r="0.85" fill="#111"/>
<text transform="translate(386.60 492.10) rotate(-180.00) scale(0.78 1)" x="0" y="0" font-family="'Liberation Serif', serif" font-size="9" font-weight="bold" text-anchor="middle" fill="#000" stroke="#000" stroke-width="0.25">B</text>
<circle cx="402.00" cy="472.30" r="2.80" fill="#fff" stroke="#111" stroke-width="0.85"/>
<circle cx="402.00" cy="472.30" r="0.85" fill="#111"/>
<text transform="translate(408.30 475.30) rotate(0.00) scale(0.78 1)" x="0" y="0" font-family="'Liberation Serif', serif" font-size="9" font-weight="bold" text-anchor="middle" fill="#000" stroke="#000" stroke-width="0.25">A</text>
<circle cx="386.60" cy="434.40" r="2.80" fill="#fff" stroke="#111" stroke-width="0.85"/>
<circle cx="386.60" cy="434.40" r="0.85" fill="#111"/>
<text transform="translate(386.60 430.00) rotate(-0.00) scale(0.78 1)" x="0" y="0" font-family="'Liberation Serif', serif" font-size="9" font-weight="bold" text-anchor="middle" fill="#000" stroke="#000" stroke-width="0.25">B</text>
<circle cx="367.65" cy="439.48" r="2.80" fill="#fff" stroke="#111" stroke-width="0.85"/>
<circle cx="367.65" cy="439.48" r="0.85" fill="#111"/>
<text transform="translate(365.45 435.67) rotate(-30.00) scale(0.78 1)" x="0" y="0" font-family="'Liberation Serif', serif" font-size="9" font-weight="bold" text-anchor="middle" fill="#000" stroke="#000" stroke-width="0.25">C</text>
<circle cx="353.78" cy="453.35" r="2.80" fill="#fff" stroke="#111" stroke-width="0.85"/>
<circle cx="353.78" cy="453.35" r="0.85" fill="#111"/>
<text transform="translate(349.97 451.15) rotate(-60.00) scale(0.78 1)" x="0" y="0" font-family="'Liberation Serif', serif" font-size="9" font-weight="bold" text-anchor="middle" fill="#000" stroke="#000" stroke-width="0.25">B</text>
<circle cx="348.70" cy="472.30" r="2.80" fill="#fff" stroke="#111" stroke-width="0.85"/>
<circle cx="348.70" cy="472.30" r="0.85" fill="#111"/>
<text transform="translate(344.30 472.30) rotate(-90.00) scale(0.78 1)" x="0" y="0" font-family="'Liberation Serif', serif" font-size="9" font-weight="bold" text-anchor="middle" fill="#000" stroke="#000" stroke-width="0.25">A</text>
<circle cx="353.78" cy="491.25" r="2.80" fill="#fff" stroke="#111" stroke-width="0.85"/>
<circle cx="353.78" cy="491.25" r="0.85" fill="#111"/>
<text transform="translate(349.97 493.45) rotate(-120.00) scale(0.78 1)" x="0" y="0" font-family="'Liberation Serif', serif" font-size="9" font-weight="bold" text-anchor="middle" fill="#000" stroke="#000" stroke-width="0.25">B</text>
<circle cx="367.65" cy="505.12" r="2.80" fill="#fff" stroke="#111" stroke-width="0.85"/>
<circle cx="367.65" cy="505.12" r="0.85" fill="#111"/>
<text transform="translate(365.45 508.93) rotate(-150.00) scale(0.78 1)" x="0" y="0" font-family="'Liberation Serif', serif" font-size="9" font-weight="bold" text-anchor="middle" fill="#000" stroke="#000" stroke-width="0.25">C</text>
<circle cx="386.60" cy="510.20" r="2.80" fill="#fff" stroke="#111" stroke-width="0.85"/>
<circle cx="386.60" cy="510.20" r="0.85" fill="#111"/>
<text transform="translate(386.60 514.60) rotate(-180.00) scale(0.78 1)" x="0" y="0" font-family="'Liberation Serif', serif" font-size="9" font-weight="bold" text-anchor="middle" fill="#000" stroke="#000" stroke-width="0.25">B</text>
<circle cx="405.55" cy="505.12" r="2.80" fill="#fff" stroke="#111" stroke-width="0.85"/>
<circle cx="405.55" cy="505.12" r="0.85" fill="#111"/>
<text transform="translate(407.75 508.93) rotate(-210.00) scale(0.78 1)" x="0" y="0" font-family="'Liberation Serif', serif" font-size="9" font-weight="bold" text-anchor="middle" fill="#000" stroke="#000" stroke-width="0.25">A</text>
<circle cx="419.42" cy="491.25" r="2.80" fill="#fff" stroke="#111" stroke-width="0.85"/>
<circle cx="419.42" cy="491.25" r="0.85" fill="#111"/>
<text transform="translate(423.23 493.45) rotate(-240.00) scale(0.78 1)" x="0" y="0" font-family="'Liberation Serif', serif" font-size="9" font-weight="bold" text-anchor="middle" fill="#000" stroke="#000" stroke-width="0.25">B</text>
<circle cx="424.50" cy="472.30" r="2.80" fill="#fff" stroke="#111" stroke-width="0.85"/>
<circle cx="424.50" cy="472.30" r="0.85" fill="#111"/>
<text transform="translate(428.90 472.30) rotate(-270.00) scale(0.78 1)" x="0" y="0" font-family="'Liberation Serif', serif" font-size="9" font-weight="bold" text-anchor="middle" fill="#000" stroke="#000" stroke-width="0.25">C</text>
<circle cx="419.42" cy="453.35" r="2.80" fill="#fff" stroke="#111" stroke-width="0.85"/>
<circle cx="419.42" cy="453.35" r="0.85" fill="#111"/>
<text transform="translate(423.23 451.15) rotate(-300.00) scale(0.78 1)" x="0" y="0" font-family="'Liberation Serif', serif" font-size="9" font-weight="bold" text-anchor="middle" fill="#000" stroke="#000" stroke-width="0.25">B</text>
<circle cx="405.55" cy="439.48" r="2.80" fill="#fff" stroke="#111" stroke-width="0.85"/>
<circle cx="405.55" cy="439.48" r="0.85" fill="#111"/>
<text transform="translate(407.75 435.67) rotate(-330.00) scale(0.78 1)" x="0" y="0" font-family="'Liberation Serif', serif" font-size="9" font-weight="bold" text-anchor="middle" fill="#000" stroke="#000" stroke-width="0.25">A</text>
<circle cx="386.60" cy="411.40" r="2.80" fill="#fff" stroke="#111" stroke-width="0.85"/>
<circle cx="386.60" cy="411.40" r="0.85" fill="#111"/>
<text transform="translate(386.60 407.00) rotate(-0.00) scale(0.78 1)" x="0" y="0" font-family="'Liberation Serif', serif" font-size="9" font-weight="bold" text-anchor="middle" fill="#000" stroke="#000" stroke-width="0.25">B</text>
<circle cx="363.29" cy="416.04" r="2.80" fill="#fff" stroke="#111" stroke-width="0.85"/>
<circle cx="363.29" cy="416.04" r="0.85" fill="#111"/>
<text transform="translate(361.61 411.97) rotate(-22.50) scale(0.78 1)" x="0" y="0" font-family="'Liberation Serif', serif" font-size="9" font-weight="bold" text-anchor="middle" fill="#000" stroke="#000" stroke-width="0.25">C</text>
<circle cx="343.54" cy="429.24" r="2.80" fill="#fff" stroke="#111" stroke-width="0.85"/>
<circle cx="343.54" cy="429.24" r="0.85" fill="#111"/>
<text transform="translate(340.43 426.13) rotate(-45.00) scale(0.78 1)" x="0" y="0" font-family="'Liberation Serif', serif" font-size="9" font-weight="bold" text-anchor="middle" fill="#000" stroke="#000" stroke-width="0.25">B</text>
<circle cx="330.34" cy="448.99" r="2.80" fill="#fff" stroke="#111" stroke-width="0.85"/>
<circle cx="330.34" cy="448.99" r="0.85" fill="#111"/>
<text transform="translate(326.27 447.31) rotate(-67.50) scale(0.78 1)" x="0" y="0" font-family="'Liberation Serif', serif" font-size="9" font-weight="bold" text-anchor="middle" fill="#000" stroke="#000" stroke-width="0.25">A</text>
<circle cx="325.70" cy="472.30" r="2.80" fill="#fff" stroke="#111" stroke-width="0.85"/>
<circle cx="325.70" cy="472.30" r="0.85" fill="#111"/>
<text transform="translate(321.30 472.30) rotate(-90.00) scale(0.78 1)" x="0" y="0" font-family="'Liberation Serif', serif" font-size="9" font-weight="bold" text-anchor="middle" fill="#000" stroke="#000" stroke-width="0.25">B</text>
<circle cx="330.34" cy="495.61" r="2.80" fill="#fff" stroke="#111" stroke-width="0.85"/>
<circle cx="330.34" cy="495.61" r="0.85" fill="#111"/>
<text transform="translate(326.27 497.29) rotate(-112.50) scale(0.78 1)" x="0" y="0" font-family="'Liberation Serif', serif" font-size="9" font-weight="bold" text-anchor="middle" fill="#000" stroke="#000" stroke-width="0.25">C</text>
<circle cx="343.54" cy="515.36" r="2.80" fill="#fff" stroke="#111" stroke-width="0.85"/>
<circle cx="343.54" cy="515.36" r="0.85" fill="#111"/>
<text transform="translate(340.43 518.47) rotate(-135.00) scale(0.78 1)" x="0" y="0" font-family="'Liberation Serif', serif" font-size="9" font-weight="bold" text-anchor="middle" fill="#000" stroke="#000" stroke-width="0.25">B</text>
<circle cx="363.29" cy="528.56" r="2.80" fill="#fff" stroke="#111" stroke-width="0.85"/>
<circle cx="363.29" cy="528.56" r="0.85" fill="#111"/>
<text transform="translate(361.61 532.63) rotate(-157.50) scale(0.78 1)" x="0" y="0" font-family="'Liberation Serif', serif" font-size="9" font-weight="bold" text-anchor="middle" fill="#000" stroke="#000" stroke-width="0.25">A</text>
<circle cx="386.60" cy="533.20" r="2.80" fill="#fff" stroke="#111" stroke-width="0.85"/>
<circle cx="386.60" cy="533.20" r="0.85" fill="#111"/>
<text transform="translate(386.60 537.60) rotate(-180.00) scale(0.78 1)" x="0" y="0" font-family="'Liberation Serif', serif" font-size="9" font-weight="bold" text-anchor="middle" fill="#000" stroke="#000" stroke-width="0.25">B</text>
<circle cx="409.91" cy="528.56" r="2.80" fill="#fff" stroke="#111" stroke-width="0.85"/>
<circle cx="409.91" cy="528.56" r="0.85" fill="#111"/>
<text transform="translate(411.59 532.63) rotate(-202.50) scale(0.78 1)" x="0" y="0" font-family="'Liberation Serif', serif" font-size="9" font-weight="bold" text-anchor="middle" fill="#000" stroke="#000" stroke-width="0.25">C</text>
<circle cx="429.66" cy="515.36" r="2.80" fill="#fff" stroke="#111" stroke-width="0.85"/>
<circle cx="429.66" cy="515.36" r="0.85" fill="#111"/>
<text transform="translate(432.77 518.47) rotate(-225.00) scale(0.78 1)" x="0" y="0" font-family="'Liberation Serif', serif" font-size="9" font-weight="bold" text-anchor="middle" fill="#000" stroke="#000" stroke-width="0.25">B</text>
<circle cx="442.86" cy="495.61" r="2.80" fill="#fff" stroke="#111" stroke-width="0.85"/>
<circle cx="442.86" cy="495.61" r="0.85" fill="#111"/>
<text transform="translate(446.93 497.29) rotate(-247.50) scale(0.78 1)" x="0" y="0" font-family="'Liberation Serif', serif" font-size="9" font-weight="bold" text-anchor="middle" fill="#000" stroke="#000" stroke-width="0.25">A</text>
<circle cx="447.50" cy="472.30" r="2.80" fill="#fff" stroke="#111" stroke-width="0.85"/>
<circle cx="447.50" cy="472.30" r="0.85" fill="#111"/>
<text transform="translate(451.90 472.30) rotate(-270.00) scale(0.78 1)" x="0" y="0" font-family="'Liberation Serif', serif" font-size="9" font-weight="bold" text-anchor="middle" fill="#000" stroke="#000" stroke-width="0.25">B</text>
<circle cx="442.86" cy="448.99" r="2.80" fill="#fff" stroke="#111" stroke-width="0.85"/>
<circle cx="442.86" cy="448.99" r="0.85" fill="#111"/>
<text transform="translate(446.93 447.31) rotate(-292.50) scale(0.78 1)" x="0" y="0" font-family="'Liberation Serif', serif" font-size="9" font-weight="bold" text-anchor="middle" fill="#000" stroke="#000" stroke-width="0.25">C</text>
<circle cx="429.66" cy="429.24" r="2.80" fill="#fff" stroke="#111" stroke-width="0.85"/>
<circle cx="429.66" cy="429.24" r="0.85" fill="#111"/>
<text transform="translate(432.77 426.13) rotate(-315.00) scale(0.78 1)" x="0" y="0" font-family="'Liberation Serif', serif" font-size="9" font-weight="bold" text-anchor="middle" fill="#000" stroke="#000" stroke-width="0.25">B</text>
<circle cx="409.91" cy="416.04" r="2.80" fill="#fff" stroke="#111" stroke-width="0.85"/>
<circle cx="409.91" cy="416.04" r="0.85" fill="#111"/>
<text transform="translate(411.59 411.97) rotate(-337.50) scale(0.78 1)" x="0" y="0" font-family="'Liberation Serif', serif" font-size="9" font-weight="bold" text-anchor="middle" fill="#000" stroke="#000" stroke-width="0.25">A</text>
<circle cx="386.60" cy="388.60" r="2.80" fill="#fff" stroke="#111" stroke-width="0.85"/>
<circle cx="386.60" cy="388.60" r="0.85" fill="#111"/>
<text transform="translate(386.60 384.20) rotate(-0.00) scale(0.78 1)" x="0" y="0" font-family="'Liberation Serif', serif" font-size="9" font-weight="bold" text-anchor="middle" fill="#000" stroke="#000" stroke-width="0.25">C</text>
<circle cx="364.94" cy="391.45" r="2.80" fill="#fff" stroke="#111" stroke-width="0.85"/>
<circle cx="364.94" cy="391.45" r="0.85" fill="#111"/>
<text transform="translate(363.80 387.20) rotate(-15.00) scale(0.78 1)" x="0" y="0" font-family="'Liberation Serif', serif" font-size="9" font-weight="bold" text-anchor="middle" fill="#000" stroke="#000" stroke-width="0.25">B</text>
<circle cx="344.75" cy="399.81" r="2.80" fill="#fff" stroke="#111" stroke-width="0.85"/>
<circle cx="344.75" cy="399.81" r="0.85" fill="#111"/>
<text transform="translate(342.55 396.00) rotate(-30.00) scale(0.78 1)" x="0" y="0" font-family="'Liberation Serif', serif" font-size="9" font-weight="bold" text-anchor="middle" fill="#000" stroke="#000" stroke-width="0.25">A</text>
<circle cx="327.42" cy="413.12" r="2.80" fill="#fff" stroke="#111" stroke-width="0.85"/>
<circle cx="327.42" cy="413.12" r="0.85" fill="#111"/>
<text transform="translate(324.30 410.00) rotate(-45.00) scale(0.78 1)" x="0" y="0" font-family="'Liberation Serif', serif" font-size="9" font-weight="bold" text-anchor="middle" fill="#000" stroke="#000" stroke-width="0.25">B</text>
<circle cx="314.11" cy="430.45" r="2.80" fill="#fff" stroke="#111" stroke-width="0.85"/>
<circle cx="314.11" cy="430.45" r="0.85" fill="#111"/>
<text transform="translate(310.30 428.25) rotate(-60.00) scale(0.78 1)" x="0" y="0" font-family="'Liberation Serif', serif" font-size="9" font-weight="bold" text-anchor="middle" fill="#000" stroke="#000" stroke-width="0.25">C</text>
<circle cx="305.75" cy="450.64" r="2.80" fill="#fff" stroke="#111" stroke-width="0.85"/>
<circle cx="305.75" cy="450.64" r="0.85" fill="#111"/>
<text transform="translate(301.50 449.50) rotate(-75.00) scale(0.78 1)" x="0" y="0" font-family="'Liberation Serif', serif" font-size="9" font-weight="bold" text-anchor="middle" fill="#000" stroke="#000" stroke-width="0.25">B</text>
<circle cx="302.90" cy="472.30" r="2.80" fill="#fff" stroke="#111" stroke-width="0.85"/>
<circle cx="302.90" cy="472.30" r="0.85" fill="#111"/>
<text transform="translate(298.50 472.30) rotate(-90.00) scale(0.78 1)" x="0" y="0" font-family="'Liberation Serif', serif" font-size="9" font-weight="bold" text-anchor="middle" fill="#000" stroke="#000" stroke-width="0.25">A</text>
<circle cx="305.75" cy="493.96" r="2.80" fill="#fff" stroke="#111" stroke-width="0.85"/>
<circle cx="305.75" cy="493.96" r="0.85" fill="#111"/>
<text transform="translate(301.50 495.10) rotate(-105.00) scale(0.78 1)" x="0" y="0" font-family="'Liberation Serif', serif" font-size="9" font-weight="bold" text-anchor="middle" fill="#000" stroke="#000" stroke-width="0.25">B</text>
<circle cx="314.11" cy="514.15" r="2.80" fill="#fff" stroke="#111" stroke-width="0.85"/>
<circle cx="314.11" cy="514.15" r="0.85" fill="#111"/>
<text transform="translate(310.30 516.35) rotate(-120.00) scale(0.78 1)" x="0" y="0" font-family="'Liberation Serif', serif" font-size="9" font-weight="bold" text-anchor="middle" fill="#000" stroke="#000" stroke-width="0.25">C</text>
<circle cx="327.42" cy="531.48" r="2.80" fill="#fff" stroke="#111" stroke-width="0.85"/>
<circle cx="327.42" cy="531.48" r="0.85" fill="#111"/>
<text transform="translate(324.30 534.60) rotate(-135.00) scale(0.78 1)" x="0" y="0" font-family="'Liberation Serif', serif" font-size="9" font-weight="bold" text-anchor="middle" fill="#000" stroke="#000" stroke-width="0.25">B</text>
<circle cx="344.75" cy="544.79" r="2.80" fill="#fff" stroke="#111" stroke-width="0.85"/>
<circle cx="344.75" cy="544.79" r="0.85" fill="#111"/>
<text transform="translate(342.55 548.60) rotate(-150.00) scale(0.78 1)" x="0" y="0" font-family="'Liberation Serif', serif" font-size="9" font-weight="bold" text-anchor="middle" fill="#000" stroke="#000" stroke-width="0.25">A</text>
<circle cx="364.94" cy="553.15" r="2.80" fill="#fff" stroke="#111" stroke-width="0.85"/>
<circle cx="364.94" cy="553.15" r="0.85" fill="#111"/>
<text transform="translate(363.80 557.40) rotate(-165.00) scale(0.78 1)" x="0" y="0" font-family="'Liberation Serif', serif" font-size="9" font-weight="bold" text-anchor="middle" fill="#000" stroke="#000" stroke-width="0.25">B</text>
<circle cx="386.60" cy="556.00" r="2.80" fill="#fff" stroke="#111" stroke-width="0.85"/>
<circle cx="386.60" cy="556.00" r="0.85" fill="#111"/>
<text transform="translate(386.60 560.40) rotate(-180.00) scale(0.78 1)" x="0" y="0" font-family="'Liberation Serif', serif" font-size="9" font-weight="bold" text-anchor="middle" fill="#000" stroke="#000" stroke-width="0.25">C</text>
<circle cx="408.26" cy="553.15" r="2.80" fill="#fff" stroke="#111" stroke-width="0.85"/>
<circle cx="408.26" cy="553.15" r="0.85" fill="#111"/>
<text transform="translate(409.40 557.40) rotate(-195.00) scale(0.78 1)" x="0" y="0" font-family="'Liberation Serif', serif" font-size="9" font-weight="bold" text-anchor="middle" fill="#000" stroke="#000" stroke-width="0.25">B</text>
<circle cx="428.45" cy="544.79" r="2.80" fill="#fff" stroke="#111" stroke-width="0.85"/>
<circle cx="428.45" cy="544.79" r="0.85" fill="#111"/>
<text transform="translate(430.65 548.60) rotate(-210.00) scale(0.78 1)" x="0" y="0" font-family="'Liberation Serif', serif" font-size="9" font-weight="bold" text-anchor="middle" fill="#000" stroke="#000" stroke-width="0.25">A</text>
<circle cx="445.78" cy="531.48" r="2.80" fill="#fff" stroke="#111" stroke-width="0.85"/>
<circle cx="445.78" cy="531.48" r="0.85" fill="#111"/>
<text transform="translate(448.90 534.60) rotate(-225.00) scale(0.78 1)" x="0" y="0" font-family="'Liberation Serif', serif" font-size="9" font-weight="bold" text-anchor="middle" fill="#000" stroke="#000" stroke-width="0.25">B</text>
<circle cx="459.09" cy="514.15" r="2.80" fill="#fff" stroke="#111" stroke-width="0.85"/>
<circle cx="459.09" cy="514.15" r="0.85" fill="#111"/>
<text transform="translate(462.90 516.35) rotate(-240.00) scale(0.78 1)" x="0" y="0" font-family="'Liberation Serif', serif" font-size="9" font-weight="bold" text-anchor="middle" fill="#000" stroke="#000" stroke-width="0.25">C</text>
<circle cx="467.45" cy="493.96" r="2.80" fill="#fff" stroke="#111" stroke-width="0.85"/>
<circle cx="467.45" cy="493.96" r="0.85" fill="#111"/>
<text transform="translate(471.70 495.10) rotate(-255.00) scale(0.78 1)" x="0" y="0" font-family="'Liberation Serif', serif" font-size="9" font-weight="bold" text-anchor="middle" fill="#000" stroke="#000" stroke-width="0.25">B</text>
<circle cx="470.30" cy="472.30" r="2.80" fill="#fff" stroke="#111" stroke-width="0.85"/>
<circle cx="470.30" cy="472.30" r="0.85" fill="#111"/>
<text transform="translate(474.70 472.30) rotate(-270.00) scale(0.78 1)" x="0" y="0" font-family="'Liberation Serif', serif" font-size="9" font-weight="bold" text-anchor="middle" fill="#000" stroke="#000" stroke-width="0.25">A</text>
<circle cx="467.45" cy="450.64" r="2.80" fill="#fff" stroke="#111" stroke-width="0.85"/>
<circle cx="467.45" cy="450.64" r="0.85" fill="#111"/>
<text transform="translate(471.70 449.50) rotate(-285.00) scale(0.78 1)" x="0" y="0" font-family="'Liberation Serif', serif" font-size="9" font-weight="bold" text-anchor="middle" fill="#000" stroke="#000" stroke-width="0.25">B</text>
<circle cx="459.09" cy="430.45" r="2.80" fill="#fff" stroke="#111" stroke-width="0.85"/>
<circle cx="459.09" cy="430.45" r="0.85" fill="#111"/>
<text transform="translate(462.90 428.25) rotate(-300.00) scale(0.78 1)" x="0" y="0" font-family="'Liberation Serif', serif" font-size="9" font-weight="bold" text-anchor="middle" fill="#000" stroke="#000" stroke-width="0.25">C</text>
<circle cx="445.78" cy="413.12" r="2.80" fill="#fff" stroke="#111" stroke-width="0.85"/>
<circle cx="445.78" cy="413.12" r="0.85" fill="#111"/>
<text transform="translate(448.90 410.00) rotate(-315.00) scale(0.78 1)" x="0" y="0" font-family="'Liberation Serif', serif" font-size="9" font-weight="bold" text-anchor="middle" fill="#000" stroke="#000" stroke-width="0.25">B</text>
<circle cx="428.45" cy="399.81" r="2.80" fill="#fff" stroke="#111" stroke-width="0.85"/>
<circle cx="428.45" cy="399.81" r="0.85" fill="#111"/>
<text transform="translate(430.65 396.00) rotate(-330.00) scale(0.78 1)" x="0" y="0" font-family="'Liberation Serif', serif" font-size="9" font-weight="bold" text-anchor="middle" fill="#000" stroke="#000" stroke-width="0.25">A</text>
<circle cx="408.26" cy="391.45" r="2.80" fill="#fff" stroke="#111" stroke-width="0.85"/>
<circle cx="408.26" cy="391.45" r="0.85" fill="#111"/>
<text transform="translate(409.40 387.20) rotate(-345.00) scale(0.78 1)" x="0" y="0" font-family="'Liberation Serif', serif" font-size="9" font-weight="bold" text-anchor="middle" fill="#000" stroke="#000" stroke-width="0.25">B</text>
</svg>
</body></html>
